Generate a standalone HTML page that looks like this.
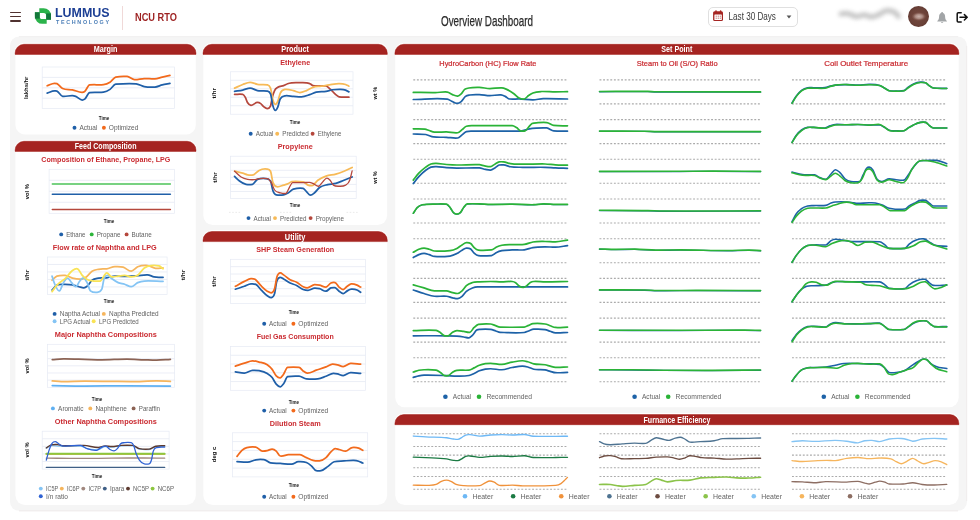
<!DOCTYPE html>
<html lang="en">
<head>
<meta charset="utf-8">
<title>Overview Dashboard</title>
<style>
*{box-sizing:border-box}
html,body{margin:0;padding:0}
body{width:980px;height:520px;overflow:hidden;background:#fff;font-family:"Liberation Sans", sans-serif;position:relative;color:#333}
header{position:absolute;left:0;top:0;width:980px;height:36px;background:#fff}
.burger{position:absolute;left:10px;top:11.6px;width:11px;height:11px}
.burger i{position:absolute;left:0;width:11px;height:1.15px;background:#503230;border-radius:1px}
.logo{position:absolute;left:34px;top:6px;width:80px;height:22px}
.vsep{position:absolute;left:122px;top:6px;width:1px;height:24px;background:#f0d9d8}
.app{position:absolute;left:135px;top:10.6px;width:44px;height:12px}
.title{position:absolute;left:441px;top:13px;width:92px;height:17px}
.range{position:absolute;left:708.3px;top:7.4px;width:89.7px;height:19.4px;border:1px solid #e0e0e0;border-radius:5px;background:#fff}
.user{position:absolute;left:836px;top:8px;width:64px;height:18px}
.avatar{position:absolute;left:907.8px;top:6.1px;width:21.1px;height:20.9px;border-radius:50%;background:radial-gradient(ellipse 7.4px 4.4px at 52% 50%,rgba(205,182,176,.95) 0,rgba(190,160,152,.8) 45%,rgba(150,110,100,.35) 80%,rgba(120,80,70,0) 100%),radial-gradient(circle at 50% 50%,#75493f 0,#6b4239 55%,#5c362e 85%,#50302a 100%)}
.icons{position:absolute;left:932px;top:8px;width:42px;height:18px}
main{position:absolute;left:10px;top:37px;width:957px;height:474px}
.card{position:absolute}
.card h2{margin:0;height:10px}
#charts{position:absolute;left:0;top:0;width:980px;height:520px;font-family:"Liberation Sans", sans-serif;opacity:.999}
header svg{opacity:.999}
</style>
</head>
<body>
<header>
  <div class="burger"><i style="top:0"></i><i style="top:4.4px"></i><i style="top:8.8px"></i></div>
  <svg class="logo" viewBox="0 0 80 22">
    <g fill="none" stroke-width="4.8">
      <path d="M5.3 4.6 L9.6 4.6 A5 5 0 0 1 14.6 9.6 L14.6 13.7" stroke="#2bb34b"/>
      <path d="M3.3 6.3 L3.3 10.4 A5 5 0 0 0 8.3 15.4 L12.7 15.4" stroke="#2bb34b"/>
      <path d="M14.6 7.4 L14.6 13.7" stroke="#14773b"/>
      <path d="M3.3 6.3 L3.3 12.6" stroke="#14773b"/>
    </g>
    <text x="21" y="11.0" font-family='"Liberation Sans", sans-serif' font-size="12.2" font-weight="bold" fill="#1d3f94" textLength="54.5" lengthAdjust="spacingAndGlyphs">LUMMUS</text>
    <text x="22" y="18.2" font-family='"Liberation Sans", sans-serif' font-size="5.4" font-weight="bold" fill="#4c7fb8" textLength="53" lengthAdjust="spacing">TECHNOLOGY</text>
  </svg>
  <div class="vsep"></div>
  <svg class="app" viewBox="0 0 44 12"><text x="0" y="9.6" font-family='"Liberation Sans", sans-serif' font-size="10.4" font-weight="bold" fill="#9c1f1f" textLength="42" lengthAdjust="spacingAndGlyphs">NCU RTO</text></svg>
  <svg class="title" viewBox="0 0 92 17"><text x="0" y="13.4" font-family='"Liberation Sans", sans-serif' font-size="14.8" fill="#2b2b2b" stroke="#2b2b2b" stroke-width=".25" textLength="92" lengthAdjust="spacingAndGlyphs">Overview Dashboard</text></svg>
  <div class="range">
    <svg width="88" height="18" viewBox="0 0 88 18" style="position:absolute;left:0;top:0">
      <rect x="4.1" y="3.3" width="9.9" height="9.8" rx="1.5" fill="#a52421"/>
      <rect x="5.4" y="6.6" width="7.4" height="5.3" rx=".5" fill="#fff"/>
      <rect x="6.3" y="2.2" width="1.4" height="2.6" rx=".6" fill="#a52421"/>
      <rect x="10.9" y="2.2" width="1.4" height="2.6" rx=".6" fill="#a52421"/>
      <g fill="#c98a88"><rect x="6.6" y="7.6" width="1.3" height="1.2"/><rect x="8.65" y="7.6" width="1.3" height="1.2"/><rect x="10.7" y="7.6" width="1.3" height="1.2"/><rect x="6.6" y="9.6" width="1.3" height="1.2"/><rect x="8.65" y="9.6" width="1.3" height="1.2"/><rect x="10.7" y="9.6" width="1.3" height="1.2"/></g>
      <text x="19.6" y="12.4" font-family='"Liberation Sans", sans-serif' font-size="10.3" fill="#3a3a3a" textLength="47.3" lengthAdjust="spacingAndGlyphs">Last 30 Days</text>
      <path d="M77.6 7.6 L82.4 7.6 L80 10.4 Z" fill="#555"/>
    </svg>
  </div>
  <svg class="user" viewBox="0 0 64 18" style="overflow:visible">
    <defs><filter id="bl" x="-30%" y="-150%" width="160%" height="400%"><feGaussianBlur stdDeviation="2.1"/></filter></defs>
    <path d="M5 6 C8 5 10 5.2 12 5.6 C16 6.5 18 8.6 21 8.6 C24 8.6 25.5 6.8 28 6.8 C31 6.8 32.5 9 35.5 9 C38.5 9 40.5 7.6 43 6.6 C46 5 47.5 2.8 50.5 2.7 C53.5 2.6 55.5 2.8 57.5 3.7 C60 5 61.5 7 62.5 8.6" fill="none" stroke="#8f8f8f" stroke-width="4.8" stroke-linecap="round" filter="url(#bl)" opacity=".55"/>
  </svg>
  <div class="avatar"></div>
  <svg class="icons" viewBox="0 0 42 18">
    <path d="M10.1 3.9 C10.9 3.9 11 4.6 11 4.9 C12.6 5.5 13.1 7 13.1 8.6 C13.1 11 13.7 12 14.9 13.1 L14.9 13.6 L5.3 13.6 L5.3 13.1 C6.5 12 7.1 11 7.1 8.6 C7.1 7 7.6 5.5 9.2 4.9 C9.2 4.6 9.3 3.9 10.1 3.9 Z" fill="#a2a5a7"/>
    <path d="M8.9 14.2 A1.25 1.25 0 0 0 11.3 14.2 Z" fill="#a2a5a7"/>
    <path d="M29.2 4.7 L26.2 4.7 Q25.2 4.7 25.2 5.7 L25.2 13 Q25.2 14 26.2 14 L29.2 14" fill="none" stroke="#111" stroke-width="1.5" stroke-linejoin="round" stroke-linecap="round"/>
    <path d="M28 9.3 L35 9.3 M32.4 6.6 L35.2 9.3 L32.4 12" fill="none" stroke="#111" stroke-width="1.5" stroke-linejoin="round" stroke-linecap="round"/>
  </svg>
</header>
<main></main>
<section class="card" id="margin" style="left:15.1px;top:44.3px;width:180.9px;height:90.2px"><h2 aria-label="Margin"></h2></section>
<section class="card" id="feed" style="left:15.1px;top:141.3px;width:180.9px;height:363.8px"><h2 aria-label="Feed Composition"></h2></section>
<section class="card" id="product" style="left:203px;top:44.3px;width:184.3px;height:180.7px"><h2 aria-label="Product"></h2></section>
<section class="card" id="utility" style="left:203px;top:231.5px;width:184.3px;height:273.6px"><h2 aria-label="Utility"></h2></section>
<section class="card" id="setpoint" style="left:394.9px;top:44.3px;width:564px;height:363px"><h2 aria-label="Set Point"></h2></section>
<section class="card" id="furnace" style="left:394.9px;top:414.6px;width:564px;height:90.5px"><h2 aria-label="Furnance Efficiency"></h2></section>

<svg id="charts" viewBox="0 0 980 520">
<rect x="10" y="36.6" width="957" height="474.2" rx="9" fill="#f5f5f5"/>
<path d="M19 36.6 H958 " stroke="#ebe9e9" stroke-width=".6" fill="none"/>
<path d="M966.7 46 V501" stroke="#ece8e8" stroke-width=".7" fill="none"/>
<path d="M19 510.9 H958" stroke="#ebe4e4" stroke-width=".7" fill="none"/>
<rect x="15.45" y="44.3" width="180.35" height="90.2" rx="9.5" fill="#fff"/>
<path d="M14.2 54.4 V53.1 A9.7 10.4 0 0 1 23.9 42.7 H187.2 A9.7 10.4 0 0 1 196.9 53.1 V54.4 Z" fill="#fff"/>
<path d="M15.1 54.4 V53.1 A8.8 8.8 0 0 1 23.9 44.3 H187.2 A8.8 8.8 0 0 1 196 53.1 V54.4 Z" fill="#a52421" stroke="#9c0f08" stroke-width=".45"/>
<rect x="15.45" y="141.3" width="180.35" height="363.8" rx="9.5" fill="#fff"/>
<path d="M14.2 151.4 V150.1 A9.7 10.4 0 0 1 23.9 139.7 H187.2 A9.7 10.4 0 0 1 196.9 150.1 V151.4 Z" fill="#fff"/>
<path d="M15.1 151.4 V150.1 A8.8 8.8 0 0 1 23.9 141.3 H187.2 A8.8 8.8 0 0 1 196 150.1 V151.4 Z" fill="#a52421" stroke="#9c0f08" stroke-width=".45"/>
<rect x="203.35" y="44.3" width="183.75" height="180.7" rx="9.5" fill="#fff"/>
<path d="M202.1 54.4 V53.1 A9.7 10.4 0 0 1 211.8 42.7 H378.5 A9.7 10.4 0 0 1 388.2 53.1 V54.4 Z" fill="#fff"/>
<path d="M203 54.4 V53.1 A8.8 8.8 0 0 1 211.8 44.3 H378.5 A8.8 8.8 0 0 1 387.3 53.1 V54.4 Z" fill="#a52421" stroke="#9c0f08" stroke-width=".45"/>
<rect x="203.35" y="231.5" width="183.75" height="273.6" rx="9.5" fill="#fff"/>
<path d="M202.1 241.6 V240.3 A9.7 10.4 0 0 1 211.8 229.9 H378.5 A9.7 10.4 0 0 1 388.2 240.3 V241.6 Z" fill="#fff"/>
<path d="M203 241.6 V240.3 A8.8 8.8 0 0 1 211.8 231.5 H378.5 A8.8 8.8 0 0 1 387.3 240.3 V241.6 Z" fill="#a52421" stroke="#9c0f08" stroke-width=".45"/>
<rect x="395.25" y="44.3" width="563.45" height="363" rx="9.5" fill="#fff"/>
<path d="M394 54.4 V53.1 A9.7 10.4 0 0 1 403.7 42.7 H950.1 A9.7 10.4 0 0 1 959.8 53.1 V54.4 Z" fill="#fff"/>
<path d="M394.9 54.4 V53.1 A8.8 8.8 0 0 1 403.7 44.3 H950.1 A8.8 8.8 0 0 1 958.9 53.1 V54.4 Z" fill="#a52421" stroke="#9c0f08" stroke-width=".45"/>
<rect x="395.25" y="414.6" width="563.45" height="90.5" rx="9.5" fill="#fff"/>
<path d="M394 424.7 V423.4 A9.7 10.4 0 0 1 403.7 413 H950.1 A9.7 10.4 0 0 1 959.8 423.4 V424.7 Z" fill="#fff"/>
<path d="M394.9 424.7 V423.4 A8.8 8.8 0 0 1 403.7 414.6 H950.1 A8.8 8.8 0 0 1 958.9 423.4 V424.7 Z" fill="#a52421" stroke="#9c0f08" stroke-width=".45"/>
<rect x="42.2" y="67" width="132.3" height="41.6" fill="#fff" stroke="#e6eaf4" stroke-width="0.7"/>
<line x1="42.2" y1="77.4" x2="174.5" y2="77.4" stroke="#e6eaf4" stroke-width="0.8"/>
<line x1="42.2" y1="87.8" x2="174.5" y2="87.8" stroke="#e6eaf4" stroke-width="0.8"/>
<line x1="42.2" y1="98.2" x2="174.5" y2="98.2" stroke="#e6eaf4" stroke-width="0.8"/>
<path d="M47.14 93.1C49.59 92.39 52.04 91 54.49 90.98C55.31 90.97 56.12 90.88 56.94 91.14C58.84 91.75 60.75 96.05 62.65 96.37C65.92 96.9 69.18 95.39 72.45 95.55C73.54 95.61 74.63 95.98 75.71 96.37C77.89 97.15 80.07 100.21 82.24 100.12C83.06 100.09 83.88 99.72 84.69 99.14C86.33 97.98 87.96 92.85 89.59 92.61C94.22 91.95 98.84 92.78 103.47 92.12C105.65 91.81 107.82 90.84 110 89.35C111.9 88.04 113.81 84.26 115.71 84.12C122.52 83.64 129.32 83.31 136.12 83.8C138.84 83.99 141.56 86.04 144.29 86.57C147.82 87.27 151.36 87.22 154.9 87.06C157.35 86.95 159.8 85.53 162.24 84.94C164.8 84.32 167.36 83.96 169.92 83.47" fill="none" stroke="#1f5fa8" stroke-width="1.75" stroke-linecap="round" stroke-linejoin="round"/>
<path d="M47.14 85.76C49.59 84.94 52.04 83.29 54.49 83.31C55.31 83.31 56.12 83.35 56.94 83.63C58.84 84.3 60.75 87.71 62.65 88.53C65.92 89.94 69.18 89.21 72.45 89.84C75.71 90.46 78.98 92.5 82.24 92.29C83.06 92.23 83.88 92.01 84.69 91.47C86.33 90.38 87.96 85.12 89.59 84.94C94.22 84.42 98.84 85.13 103.47 84.61C105.65 84.37 107.82 83.57 110 82.16C111.9 80.93 113.81 77.52 115.71 77.1C119.52 76.28 123.33 76.17 127.14 76.45C129.59 76.63 132.04 79.56 134.49 79.71C137.76 79.91 141.02 78.62 144.29 78.57C147.82 78.52 151.36 79.04 154.9 78.9C157.35 78.8 159.8 77.66 162.24 77.1C164.8 76.52 167.36 76.01 169.92 75.47" fill="none" stroke="#f26a1c" stroke-width="1.75" stroke-linecap="round" stroke-linejoin="round"/>
<text x="104" y="119.7" font-size="5.2" fill="#222" text-anchor="middle" font-weight="bold" textLength="10.5" lengthAdjust="spacingAndGlyphs">Time</text>
<text x="28.2" y="87.8" font-size="6.2" fill="#111" text-anchor="middle" font-weight="bold" textLength="22.4" lengthAdjust="spacingAndGlyphs" transform="rotate(-90 28.2 87.8)">lakhs/hr</text>
<circle cx="74.5" cy="127.7" r="1.95" fill="#1f5fa8"/>
<text x="79.4" y="130.2" font-size="7.3" fill="#636363" text-anchor="start" font-weight="normal" textLength="18" lengthAdjust="spacingAndGlyphs">Actual</text>
<circle cx="103.9" cy="127.7" r="1.95" fill="#f26a1c"/>
<text x="108.8" y="130.2" font-size="7.3" fill="#636363" text-anchor="start" font-weight="normal" textLength="29.6" lengthAdjust="spacingAndGlyphs">Optimized</text>
<text x="105.8" y="162.3" font-size="7.6" fill="#ca2b31" text-anchor="middle" font-weight="bold" textLength="129" lengthAdjust="spacingAndGlyphs">Composition of Ethane, Propane, LPG</text>
<rect x="49.1" y="169.3" width="125.5" height="44" fill="#fff" stroke="#e6eaf4" stroke-width="0.7"/>
<line x1="49.1" y1="180.3" x2="174.6" y2="180.3" stroke="#e6eaf4" stroke-width="0.8"/>
<line x1="49.1" y1="191.3" x2="174.6" y2="191.3" stroke="#e6eaf4" stroke-width="0.8"/>
<line x1="49.1" y1="202.3" x2="174.6" y2="202.3" stroke="#e6eaf4" stroke-width="0.8"/>
<line x1="52.3" y1="184.1" x2="170.4" y2="184.1" stroke="#4cc35a" stroke-width="1.5" stroke-linecap="round"/>
<line x1="52.3" y1="194.3" x2="170.4" y2="194.3" stroke="#1f5fa8" stroke-width="1.5" stroke-linecap="round"/>
<line x1="52.3" y1="209.5" x2="170.4" y2="209.5" stroke="#b5473c" stroke-width="1.5" stroke-linecap="round"/>
<text x="109" y="222.7" font-size="5.2" fill="#222" text-anchor="middle" font-weight="bold" textLength="10.5" lengthAdjust="spacingAndGlyphs">Time</text>
<text x="29" y="191.7" font-size="6.2" fill="#111" text-anchor="middle" font-weight="bold" textLength="15" lengthAdjust="spacingAndGlyphs" transform="rotate(-90 29 191.7)">vol %</text>
<circle cx="61.2" cy="234.4" r="1.95" fill="#1f5fa8"/>
<text x="66.2" y="236.9" font-size="7.3" fill="#636363" text-anchor="start" font-weight="normal" textLength="19.3" lengthAdjust="spacingAndGlyphs">Ethane</text>
<circle cx="91.7" cy="234.4" r="1.95" fill="#2db53a"/>
<text x="96.7" y="236.9" font-size="7.3" fill="#636363" text-anchor="start" font-weight="normal" textLength="23.7" lengthAdjust="spacingAndGlyphs">Propane</text>
<circle cx="126.6" cy="234.4" r="1.95" fill="#b5473c"/>
<text x="131.6" y="236.9" font-size="7.3" fill="#636363" text-anchor="start" font-weight="normal" textLength="20.1" lengthAdjust="spacingAndGlyphs">Butane</text>
<text x="104.8" y="249.8" font-size="7.6" fill="#ca2b31" text-anchor="middle" font-weight="bold" textLength="104" lengthAdjust="spacingAndGlyphs">Flow rate of Naphtha and LPG</text>
<rect x="47.6" y="257" width="119.5" height="37.4" fill="#fff" stroke="#e6eaf4" stroke-width="0.7"/>
<line x1="47.6" y1="264.48" x2="167.1" y2="264.48" stroke="#e6eaf4" stroke-width="0.8"/>
<line x1="47.6" y1="271.96" x2="167.1" y2="271.96" stroke="#e6eaf4" stroke-width="0.8"/>
<line x1="47.6" y1="279.44" x2="167.1" y2="279.44" stroke="#e6eaf4" stroke-width="0.8"/>
<line x1="47.6" y1="286.92" x2="167.1" y2="286.92" stroke="#e6eaf4" stroke-width="0.8"/>
<path d="M52.04 280.2C53.67 278.84 55.31 276.73 56.94 276.12C59.66 275.11 62.38 275.18 65.1 275.31C67.55 275.42 70 277.45 72.45 278.08C75.71 278.93 78.98 279.39 82.24 279.06C83.61 278.92 84.97 277.92 86.33 276.94C88.23 275.57 90.14 272.51 92.04 271.22C94.22 269.76 96.39 269.69 98.57 269.27C101.29 268.74 104.01 269.21 106.73 268.78C109.46 268.34 112.18 266.73 114.9 266.65C117.62 266.57 120.34 266.41 123.06 267.14C125.78 267.88 128.5 271.35 131.22 271.22C133.4 271.12 135.58 267.76 137.76 266.82C141.02 265.4 144.29 265.39 147.55 265.51C150.27 265.61 152.99 268.17 155.71 268.29C158.16 268.39 160.61 268.07 163.06 267.96" fill="none" stroke="#f6b55c" stroke-width="1.75" stroke-linecap="round" stroke-linejoin="round"/>
<path d="M52.04 290C53.67 288.37 55.31 286 56.94 285.1C58.84 284.05 60.75 284.33 62.65 284.29C65.92 284.22 69.18 284.12 72.45 284.78C74.63 285.21 76.8 286.16 78.98 286.73C80.61 287.16 82.24 287.98 83.88 287.88C84.97 287.81 86.05 287.11 87.14 286.24C88.78 284.95 90.41 281.58 92.04 280.2C94.22 278.37 96.39 278.51 98.57 278.08C101.29 277.54 104.01 278.08 106.73 277.76C109.46 277.43 112.18 276.22 114.9 276.12C119.25 275.97 123.61 276.5 127.96 276.45C131.22 276.41 134.49 275.9 137.76 275.63C141.02 275.36 144.29 274.66 147.55 274.82C149.73 274.92 151.9 276.52 154.08 276.94C157.07 277.52 160.07 277.16 163.06 277.27" fill="none" stroke="#1f5fa8" stroke-width="1.75" stroke-linecap="round" stroke-linejoin="round"/>
<path d="M52.04 276.12C52.86 278.57 53.67 281.43 54.49 283.47C56.12 287.55 57.76 291.02 59.39 290.82C60.75 290.65 62.11 284.78 63.47 282.65C64.83 280.53 66.19 278.08 67.55 278.08C68.91 278.08 70.27 281.21 71.63 282.65C72.99 284.1 74.35 286.82 75.71 286.73C77.07 286.65 78.44 282.62 79.8 281.02C80.88 279.74 81.97 277.76 83.06 277.76C84.42 277.75 85.78 280.04 87.14 282.65C88.23 284.75 89.32 289.94 90.41 290.82C92.59 292.58 94.76 292.63 96.94 292.45C98.57 292.31 100.2 292.31 101.84 289.18C102.65 287.62 103.47 279.49 104.29 277.76C105.37 275.44 106.46 275.33 107.55 275.31C108.91 275.28 110.27 277.57 111.63 278.57C113.81 280.17 115.99 281.7 118.16 282.65C120.34 283.61 122.52 283.61 124.69 284.29C126.87 284.97 129.05 286.82 131.22 286.73C133.4 286.65 135.58 283.61 137.76 282.65C139.93 281.7 142.11 281.14 144.29 281.02C150.54 280.68 156.8 281.24 163.06 281.35" fill="none" stroke="#84c4f4" stroke-width="1.75" stroke-linecap="round" stroke-linejoin="round"/>
<path d="M52.04 291.63C53.67 289.46 55.31 286.98 56.94 285.1C59.93 281.66 62.93 280.74 65.92 277.76C68.1 275.59 70.27 271.87 72.45 270.41C74.08 269.31 75.71 268.53 77.35 268.78C78.98 269.02 80.61 273.54 82.24 275.31C83.88 277.07 85.51 278.44 87.14 279.39C89.32 280.66 91.5 280.75 93.67 281.02C95.85 281.29 98.03 281.37 100.2 281.02C102.38 280.68 104.56 272.9 106.73 272.86C108.37 272.83 110 276.73 111.63 276.94C113.81 277.21 115.99 276.39 118.16 276.12C120.34 275.85 122.52 275.27 124.69 275.31C126.87 275.35 129.05 276.94 131.22 276.94C133.4 276.94 135.58 276.8 137.76 275.31C139.93 273.81 142.11 269.59 144.29 267.96C146.46 266.33 148.64 265.63 150.82 265.51C153.54 265.35 156.26 265.25 158.98 265.84C160.34 266.13 161.7 267.8 163.06 268.78" fill="none" stroke="#f9e355" stroke-width="1.75" stroke-linecap="round" stroke-linejoin="round"/>
<text x="109" y="303" font-size="5.2" fill="#222" text-anchor="middle" font-weight="bold" textLength="10.5" lengthAdjust="spacingAndGlyphs">Time</text>
<text x="29" y="275" font-size="6.2" fill="#111" text-anchor="middle" font-weight="bold" textLength="10.5" lengthAdjust="spacingAndGlyphs" transform="rotate(-90 29 275)">t/hr</text>
<text x="184.6" y="275" font-size="6.2" fill="#111" text-anchor="middle" font-weight="bold" textLength="10.5" lengthAdjust="spacingAndGlyphs" transform="rotate(-90 184.6 275)">t/hr</text>
<circle cx="54.6" cy="313.9" r="1.95" fill="#1f5fa8"/>
<text x="59.8" y="316.4" font-size="7.3" fill="#636363" text-anchor="start" font-weight="normal" textLength="40.2" lengthAdjust="spacingAndGlyphs">Naptha Actual</text>
<circle cx="103.8" cy="313.9" r="1.95" fill="#f6b55c"/>
<text x="109" y="316.4" font-size="7.3" fill="#636363" text-anchor="start" font-weight="normal" textLength="49.7" lengthAdjust="spacingAndGlyphs">Naptha Predicted</text>
<circle cx="54.6" cy="321.3" r="1.95" fill="#84c4f4"/>
<text x="59.8" y="323.8" font-size="7.3" fill="#636363" text-anchor="start" font-weight="normal" textLength="30.5" lengthAdjust="spacingAndGlyphs">LPG Actual</text>
<circle cx="93.7" cy="321.3" r="1.95" fill="#f9e355"/>
<text x="98.9" y="323.8" font-size="7.3" fill="#636363" text-anchor="start" font-weight="normal" textLength="39.8" lengthAdjust="spacingAndGlyphs">LPG Predicted</text>
<text x="105.8" y="336.7" font-size="7.6" fill="#ca2b31" text-anchor="middle" font-weight="bold" textLength="102" lengthAdjust="spacingAndGlyphs">Major Naphtha Compositions</text>
<rect x="47.6" y="344.3" width="127" height="43" fill="#fff" stroke="#e6eaf4" stroke-width="0.7"/>
<line x1="47.6" y1="351.47" x2="174.6" y2="351.47" stroke="#e6eaf4" stroke-width="0.8"/>
<line x1="47.6" y1="358.63" x2="174.6" y2="358.63" stroke="#e6eaf4" stroke-width="0.8"/>
<line x1="47.6" y1="365.8" x2="174.6" y2="365.8" stroke="#e6eaf4" stroke-width="0.8"/>
<line x1="47.6" y1="372.97" x2="174.6" y2="372.97" stroke="#e6eaf4" stroke-width="0.8"/>
<line x1="47.6" y1="380.13" x2="174.6" y2="380.13" stroke="#e6eaf4" stroke-width="0.8"/>
<path d="M52.28 359.58C56.01 359.37 59.75 358.98 63.49 358.94C70.55 358.88 77.6 359.2 84.66 359.37C90.3 359.49 95.94 359.78 101.59 359.79C110.05 359.8 118.52 359.12 126.98 359.15C132.63 359.17 138.27 359.59 143.92 359.79C148.15 359.94 152.38 360.23 156.61 360.21C161.2 360.19 165.78 359.65 170.37 359.37" fill="none" stroke="#8c6354" stroke-width="1.75" stroke-linecap="round" stroke-linejoin="round"/>
<path d="M52.28 380.95C55.31 381.16 58.34 381.55 61.38 381.59C69.14 381.69 76.9 381.18 84.66 381.16C93.12 381.15 101.59 381.3 110.05 381.38C117.11 381.44 124.16 381.6 131.22 381.59C139.68 381.57 148.15 380.92 156.61 380.95C161.2 380.97 165.78 381.23 170.37 381.38" fill="none" stroke="#f6b55c" stroke-width="1.75" stroke-linecap="round" stroke-linejoin="round"/>
<path d="M52.28 385.61C63.07 385.75 73.86 386.01 84.66 386.03C98.77 386.05 112.87 385.82 126.98 385.82C141.45 385.82 155.91 385.96 170.37 386.03" fill="none" stroke="#5fb0f2" stroke-width="1.75" stroke-linecap="round" stroke-linejoin="round"/>
<text x="97.1" y="401" font-size="5.2" fill="#222" text-anchor="middle" font-weight="bold" textLength="10.5" lengthAdjust="spacingAndGlyphs">Time</text>
<text x="29" y="366" font-size="6.2" fill="#111" text-anchor="middle" font-weight="bold" textLength="15" lengthAdjust="spacingAndGlyphs" transform="rotate(-90 29 366)">vol %</text>
<circle cx="52.9" cy="408.4" r="1.95" fill="#5fb0f2"/>
<text x="58.1" y="410.9" font-size="7.3" fill="#636363" text-anchor="start" font-weight="normal" textLength="25.4" lengthAdjust="spacingAndGlyphs">Aromatic</text>
<circle cx="90.3" cy="408.4" r="1.95" fill="#f6b55c"/>
<text x="95.5" y="410.9" font-size="7.3" fill="#636363" text-anchor="start" font-weight="normal" textLength="31.3" lengthAdjust="spacingAndGlyphs">Naphthene</text>
<circle cx="133.6" cy="408.4" r="1.95" fill="#8c6354"/>
<text x="138.8" y="410.9" font-size="7.3" fill="#636363" text-anchor="start" font-weight="normal" textLength="21.2" lengthAdjust="spacingAndGlyphs">Paraffin</text>
<text x="105.8" y="423.5" font-size="7.6" fill="#ca2b31" text-anchor="middle" font-weight="bold" textLength="102" lengthAdjust="spacingAndGlyphs">Other Naphtha Compositions</text>
<rect x="42.2" y="431.2" width="126.9" height="37.9" fill="#fff" stroke="#e6eaf4" stroke-width="0.7"/>
<line x1="42.2" y1="438.78" x2="169.1" y2="438.78" stroke="#e6eaf4" stroke-width="0.8"/>
<line x1="42.2" y1="446.36" x2="169.1" y2="446.36" stroke="#e6eaf4" stroke-width="0.8"/>
<line x1="42.2" y1="453.94" x2="169.1" y2="453.94" stroke="#e6eaf4" stroke-width="0.8"/>
<line x1="42.2" y1="461.52" x2="169.1" y2="461.52" stroke="#e6eaf4" stroke-width="0.8"/>
<path d="M46.33 467.45C85.78 467.45 125.24 467.45 164.69 467.45" fill="none" stroke="#3f5f86" stroke-width="1.3" stroke-linecap="round" stroke-linejoin="round"/>
<path d="M46.33 458.14C57.21 458.25 68.1 458.47 78.98 458.47C89.86 458.47 100.75 458.22 111.63 458.14C122.52 458.06 133.4 457.97 144.29 457.98C151.09 457.99 157.89 458.09 164.69 458.14" fill="none" stroke="#a1887f" stroke-width="1.3" stroke-linecap="round" stroke-linejoin="round"/>
<path d="M46.33 454.39C85.78 454.39 125.24 454.39 164.69 454.39" fill="none" stroke="#f6b55c" stroke-width="1.3" stroke-linecap="round" stroke-linejoin="round"/>
<path d="M46.33 453.73C85.78 453.73 125.24 453.73 164.69 453.73" fill="none" stroke="#8cc63f" stroke-width="1.9" stroke-linecap="round" stroke-linejoin="round"/>
<path d="M46.33 448.18C47.96 447.31 49.59 445.72 51.22 445.57C53.95 445.32 56.67 446.15 59.39 446.22C66.46 446.42 73.54 446.03 80.61 446.22C83.33 446.3 86.05 448.69 88.78 449.16C92.04 449.73 95.31 449.74 98.57 449.49C100.75 449.32 102.93 446.67 105.1 446.55C107.28 446.43 109.46 447.04 111.63 447.04C114.9 447.04 118.16 446.1 121.43 445.9C125.24 445.66 129.05 445.64 132.86 445.9C135.03 446.05 137.21 448.79 139.39 449.16C142.65 449.73 145.92 449.73 149.18 449.49C151.36 449.33 153.54 447.24 155.71 446.71C158.71 446 161.7 446.39 164.69 446.22" fill="none" stroke="#84c4f4" stroke-width="1.3" stroke-linecap="round" stroke-linejoin="round"/>
<path d="M46.33 447.86C47.96 446.88 49.59 445.39 51.22 444.92C53.4 444.29 55.58 444.52 57.76 444.59C59.39 444.65 61.02 445.64 62.65 445.73C69.73 446.13 76.8 445.24 83.88 445.41C88.78 445.52 93.67 447.72 98.57 447.53C100.75 447.45 102.93 445.95 105.1 445.9C107.28 445.85 109.46 446.54 111.63 446.55C114.9 446.56 118.16 445.61 121.43 445.41C125.24 445.17 129.05 445.15 132.86 445.41C135.03 445.56 137.21 448.2 139.39 448.67C142.65 449.38 145.92 449.41 149.18 449.16C151.36 449 153.54 446.75 155.71 446.22C158.71 445.51 161.7 445.9 164.69 445.73" fill="none" stroke="#5d3a2f" stroke-width="1.4" stroke-linecap="round" stroke-linejoin="round"/>
<path d="M46.33 460.1C47.14 457.11 47.96 453.67 48.78 451.12C49.86 447.72 50.95 444.86 52.04 443.29C53.13 441.71 54.22 441.63 55.31 441.65C56.39 441.68 57.48 443.13 58.57 443.78C59.93 444.58 61.29 445.73 62.65 445.9C68.64 446.65 74.63 444.76 80.61 445.41C82.79 445.64 84.97 447.88 87.14 448.67C90.41 449.87 93.67 450.69 96.94 450.31C98.57 450.12 100.2 447.71 101.84 447.04C103.2 446.48 104.56 446.1 105.92 446.22C107.28 446.35 108.64 448.73 110 449.49C111.36 450.25 112.72 450.89 114.08 450.8C115.17 450.72 116.26 449.84 117.35 448.67C118.44 447.5 119.52 444.76 120.61 443.78C121.97 442.54 123.33 442.85 124.69 442.63C126.87 442.29 129.05 442.29 131.22 442.63C132.04 442.76 132.86 443.59 133.67 445.41C134.49 447.23 135.31 451.32 136.12 453.57C137.21 456.58 138.3 458.46 139.39 460.1C141.02 462.56 142.65 463.56 144.29 463.86C145.92 464.15 147.55 464.15 149.18 463.86C150 463.71 150.82 462.34 151.63 459.29C152.18 457.25 152.72 452.78 153.27 451.12C154.35 447.81 155.44 447.82 156.53 447.53C159.25 446.8 161.97 447.2 164.69 447.04" fill="none" stroke="#2f62d3" stroke-width="1.3" stroke-linecap="round" stroke-linejoin="round"/>
<text x="97.1" y="478" font-size="5.2" fill="#222" text-anchor="middle" font-weight="bold" textLength="10.5" lengthAdjust="spacingAndGlyphs">Time</text>
<text x="29" y="450" font-size="6.2" fill="#111" text-anchor="middle" font-weight="bold" textLength="15" lengthAdjust="spacingAndGlyphs" transform="rotate(-90 29 450)">vol %</text>
<circle cx="40.8" cy="488.6" r="1.95" fill="#84c4f4"/>
<text x="45.9" y="491.1" font-size="7.3" fill="#636363" text-anchor="start" font-weight="normal" textLength="12.2" lengthAdjust="spacingAndGlyphs">IC5P</text>
<circle cx="61.8" cy="488.6" r="1.95" fill="#f6b55c"/>
<text x="66.9" y="491.1" font-size="7.3" fill="#636363" text-anchor="start" font-weight="normal" textLength="12.7" lengthAdjust="spacingAndGlyphs">IC6P</text>
<circle cx="83.3" cy="488.6" r="1.95" fill="#a1887f"/>
<text x="88.4" y="491.1" font-size="7.3" fill="#636363" text-anchor="start" font-weight="normal" textLength="12.7" lengthAdjust="spacingAndGlyphs">IC7P</text>
<circle cx="104.8" cy="488.6" r="1.95" fill="#3f5f86"/>
<text x="109.9" y="491.1" font-size="7.3" fill="#636363" text-anchor="start" font-weight="normal" textLength="14.4" lengthAdjust="spacingAndGlyphs">Ipara</text>
<circle cx="128" cy="488.6" r="1.95" fill="#5d3a2f"/>
<text x="133.1" y="491.1" font-size="7.3" fill="#636363" text-anchor="start" font-weight="normal" textLength="15.8" lengthAdjust="spacingAndGlyphs">NC5P</text>
<circle cx="152.6" cy="488.6" r="1.95" fill="#8cc63f"/>
<text x="157.7" y="491.1" font-size="7.3" fill="#636363" text-anchor="start" font-weight="normal" textLength="16.3" lengthAdjust="spacingAndGlyphs">NC6P</text>
<circle cx="40.8" cy="496.2" r="1.95" fill="#2f62d3"/>
<text x="46" y="498.7" font-size="7.3" fill="#636363" text-anchor="start" font-weight="normal" textLength="22" lengthAdjust="spacingAndGlyphs">I/n ratio</text>
<text x="295.2" y="65" font-size="7.6" fill="#ca2b31" text-anchor="middle" font-weight="bold" textLength="30" lengthAdjust="spacingAndGlyphs">Ethylene</text>
<rect x="230.5" y="71.8" width="122.5" height="42.4" fill="#fff" stroke="#e6eaf4" stroke-width="0.7"/>
<line x1="230.5" y1="80.28" x2="353" y2="80.28" stroke="#e6eaf4" stroke-width="0.8"/>
<line x1="230.5" y1="88.76" x2="353" y2="88.76" stroke="#e6eaf4" stroke-width="0.8"/>
<line x1="230.5" y1="97.24" x2="353" y2="97.24" stroke="#e6eaf4" stroke-width="0.8"/>
<line x1="230.5" y1="105.72" x2="353" y2="105.72" stroke="#e6eaf4" stroke-width="0.8"/>
<path d="M234.59 94.33C237.31 94.33 240.03 94.02 242.76 94.33C243.57 94.42 244.39 95.69 245.2 97.1C246.02 98.52 246.84 101.47 247.65 102.82C248.74 104.62 249.83 105.15 250.92 105.27C253.1 105.5 255.27 102.43 257.45 102.49C258.54 102.52 259.63 102.9 260.71 103.63C261.8 104.37 262.89 106.08 263.98 106.9C265.07 107.71 266.16 108.57 267.24 108.53C268.33 108.49 269.42 108.4 270.51 106.08C271.05 104.92 271.6 100.2 272.14 97.92C272.96 94.49 273.78 92.32 274.59 90.57C275.68 88.24 276.77 88.11 277.86 87.31C279.76 85.9 281.67 86.43 283.57 85.67C284.93 85.13 286.29 84.18 287.65 83.71C289.01 83.25 290.37 83.08 291.73 82.9C294.18 82.56 296.63 82.73 299.08 82.73C301.53 82.73 303.98 82.44 306.43 82.9C307.79 83.15 309.15 83.33 310.51 84.04C311.33 84.47 312.14 85.57 312.96 85.67C317.31 86.2 321.67 85.47 326.02 86C327.65 86.2 329.29 88.31 330.92 89.76C332.55 91.2 334.18 93.36 335.82 94.65C336.9 95.51 337.99 96.59 339.08 96.78C342.35 97.34 345.61 96.99 348.88 97.1" fill="none" stroke="#b5473c" stroke-width="1.75" stroke-linecap="round" stroke-linejoin="round"/>
<path d="M234.59 88.12C237.31 86.93 240.03 85.51 242.76 84.53C245.2 83.65 247.65 82.42 250.1 82.41C252.55 82.4 255 83.94 257.45 84.37C260.71 84.93 263.98 84.15 267.24 84.86C268.33 85.09 269.42 85.1 270.51 88.12C271.33 90.39 272.14 97.65 272.96 100.37C273.78 103.09 274.59 104.41 275.41 104.45C276.22 104.49 277.04 103.09 277.86 101.18C278.67 99.28 279.49 94.72 280.31 93.02C281.94 89.61 283.57 89.63 285.2 89.43C287.93 89.1 290.65 89.95 293.37 90.57C295.54 91.07 297.72 92.53 299.9 92.53C302.07 92.53 304.25 91.44 306.43 90.57C308.61 89.7 310.78 88.05 312.96 87.31C315.68 86.38 318.4 86.57 321.12 86.16C323.84 85.76 326.56 85.26 329.29 84.86C332.55 84.37 335.82 83.52 339.08 83.55C341.26 83.57 343.44 83.7 345.61 84.53C346.7 84.95 347.79 85.62 348.88 86.16" fill="none" stroke="#f7ba57" stroke-width="1.75" stroke-linecap="round" stroke-linejoin="round"/>
<path d="M234.59 91.39C237.31 90.95 240.03 90.67 242.76 90.08C245.2 89.55 247.65 88.1 250.1 88.12C252.55 88.15 255 90.05 257.45 90.57C260.71 91.26 263.98 90.35 267.24 91.06C268.33 91.3 269.42 91.24 270.51 93.84C271.33 95.79 272.14 103.31 272.96 106.08C273.78 108.86 274.59 110.45 275.41 110.49C276.22 110.53 277.04 108.86 277.86 106.9C278.67 104.94 279.49 100.16 280.31 98.73C281.94 95.89 283.57 95.97 285.2 95.8C287.93 95.51 290.65 96.12 293.37 96.29C296.09 96.45 298.81 96.86 301.53 96.78C304.25 96.69 306.97 95.53 309.69 94.65C311.87 93.95 314.05 92.77 316.22 92.2C319.49 91.36 322.76 91.99 326.02 91.39C328.2 90.99 330.37 90.12 332.55 89.76C335.27 89.3 337.99 89.2 340.71 89.27C342.35 89.31 343.98 89.43 345.61 90.08C346.7 90.51 347.79 91.28 348.88 91.88" fill="none" stroke="#1f5fa8" stroke-width="1.75" stroke-linecap="round" stroke-linejoin="round"/>
<text x="295" y="123.7" font-size="5.2" fill="#222" text-anchor="middle" font-weight="bold" textLength="10.5" lengthAdjust="spacingAndGlyphs">Time</text>
<text x="216.5" y="93.2" font-size="6.2" fill="#111" text-anchor="middle" font-weight="bold" textLength="10.5" lengthAdjust="spacingAndGlyphs" transform="rotate(-90 216.5 93.2)">t/hr</text>
<text x="377.3" y="93.2" font-size="6.2" fill="#111" text-anchor="middle" font-weight="bold" textLength="12.5" lengthAdjust="spacingAndGlyphs" transform="rotate(-90 377.3 93.2)">wt %</text>
<circle cx="250.7" cy="133.7" r="1.95" fill="#1f5fa8"/>
<text x="255.8" y="136.2" font-size="7.3" fill="#636363" text-anchor="start" font-weight="normal" textLength="17.6" lengthAdjust="spacingAndGlyphs">Actual</text>
<circle cx="277.2" cy="133.7" r="1.95" fill="#f7ba57"/>
<text x="282.3" y="136.2" font-size="7.3" fill="#636363" text-anchor="start" font-weight="normal" textLength="26.5" lengthAdjust="spacingAndGlyphs">Predicted</text>
<circle cx="312.6" cy="133.7" r="1.95" fill="#b5473c"/>
<text x="317.7" y="136.2" font-size="7.3" fill="#636363" text-anchor="start" font-weight="normal" textLength="23.7" lengthAdjust="spacingAndGlyphs">Ethylene</text>
<text x="295.2" y="149.4" font-size="7.6" fill="#ca2b31" text-anchor="middle" font-weight="bold" textLength="35" lengthAdjust="spacingAndGlyphs">Propylene</text>
<rect x="230.5" y="156.2" width="125.7" height="42.3" fill="#fff" stroke="#e6eaf4" stroke-width="0.7"/>
<line x1="230.5" y1="163.25" x2="356.2" y2="163.25" stroke="#e6eaf4" stroke-width="0.8"/>
<line x1="230.5" y1="170.3" x2="356.2" y2="170.3" stroke="#e6eaf4" stroke-width="0.8"/>
<line x1="230.5" y1="177.35" x2="356.2" y2="177.35" stroke="#e6eaf4" stroke-width="0.8"/>
<line x1="230.5" y1="184.4" x2="356.2" y2="184.4" stroke="#e6eaf4" stroke-width="0.8"/>
<line x1="230.5" y1="191.45" x2="356.2" y2="191.45" stroke="#e6eaf4" stroke-width="0.8"/>
<path d="M234.59 171.22C237.31 171.88 240.03 172.37 242.76 173.18C244.39 173.67 246.02 174.52 247.65 174.82C249.56 175.16 251.46 175.16 253.37 174.82C255.27 174.47 257.18 171.4 259.08 170.41C261.8 168.99 264.52 168.76 267.24 169.1C268.33 169.24 269.42 169.19 270.51 171.22C271.33 172.75 272.14 180.38 272.96 182.65C274.32 186.44 275.68 186.52 277.04 186.73C279.22 187.07 281.39 185.75 283.57 185.1C285.2 184.62 286.84 184.27 288.47 183.47C289.56 182.93 290.65 181.66 291.73 181.51C295.54 180.98 299.35 181.29 303.16 181.84C304.8 182.07 306.43 184.5 308.06 185.1C309.42 185.6 310.78 185.72 312.14 185.59C314.05 185.41 315.95 181.65 317.86 180.2C320.58 178.13 323.3 177.11 326.02 176.12C329.29 174.94 332.55 175.1 335.82 174.16C338.54 173.38 341.26 172.34 343.98 171.22C346.7 170.11 349.42 168.72 352.14 167.47" fill="none" stroke="#f7ba57" stroke-width="1.75" stroke-linecap="round" stroke-linejoin="round"/>
<path d="M234.59 176.45C236.22 177.97 237.86 179.8 239.49 181.02C241.67 182.65 243.84 183.94 246.02 184.29C248.2 184.63 250.37 184.63 252.55 184.29C254.18 184.03 255.82 180 257.45 179.39C260.17 178.37 262.89 178.35 265.61 178.57C267.24 178.71 268.88 178.6 270.51 181.02C271.33 182.23 272.14 188.51 272.96 190.82C274.05 193.89 275.14 194.75 276.22 194.9C278.67 195.22 281.12 195.22 283.57 194.9C285.2 194.68 286.84 193.73 288.47 192.78C290.1 191.82 291.73 189.68 293.37 189.18C296.63 188.19 299.9 187.65 303.16 188.37C304.25 188.61 305.34 190.6 306.43 191.63C307.79 192.92 309.15 195.17 310.51 195.22C311.87 195.28 313.23 193.88 314.59 192.78C316.22 191.45 317.86 188.86 319.49 187.55C322.21 185.37 324.93 185.29 327.65 184.61C330.37 183.93 333.1 184.2 335.82 183.47C338.54 182.73 341.26 181.29 343.98 180.2C346.7 179.12 349.42 178.03 352.14 176.94" fill="none" stroke="#1f5fa8" stroke-width="1.75" stroke-linecap="round" stroke-linejoin="round"/>
<path d="M234.59 171.22C236.77 173.13 238.95 175.58 241.12 176.94C243.3 178.3 245.48 178.93 247.65 179.39C249.83 179.85 252.01 179.79 254.18 179.71C255.82 179.66 257.45 178.76 259.08 178.57C261.8 178.26 264.52 178.26 267.24 178.57C268.61 178.73 269.97 180.35 271.33 182.65C272.41 184.5 273.5 188.43 274.59 190C276.5 192.75 278.4 192.23 280.31 192.78C282.21 193.32 284.12 193.88 286.02 193.27C287.11 192.91 288.2 189.32 289.29 187.55C290.37 185.78 291.46 182.74 292.55 182.65C296.09 182.38 299.63 182.76 303.16 182.65C305.34 182.59 307.52 182.19 309.69 182.33C310.78 182.4 311.87 183.03 312.96 183.47C314.86 184.23 316.77 186.49 318.67 186.24C320.03 186.07 321.39 183.2 322.76 181.84C324.12 180.48 325.48 178.1 326.84 178.08C327.93 178.07 329.01 179.03 330.1 180.2C331.19 181.37 332.28 184.34 333.37 185.1C335.27 186.44 337.18 186.23 339.08 186.24C341.26 186.26 343.44 186.44 345.61 185.1C346.97 184.27 348.33 184.05 349.69 180.2C350.51 177.9 351.33 174 352.14 170.9" fill="none" stroke="#b5473c" stroke-width="1.3" stroke-linecap="round" stroke-linejoin="round"/>
<text x="295" y="206.8" font-size="5.2" fill="#222" text-anchor="middle" font-weight="bold" textLength="10.5" lengthAdjust="spacingAndGlyphs">Time</text>
<line x1="229" y1="212.4" x2="240.5" y2="212.4" stroke="#e9e9e9" stroke-width="0.9" stroke-dasharray="1.6 1.6"/>
<line x1="280" y1="212.4" x2="292.5" y2="212.4" stroke="#e9e9e9" stroke-width="0.9" stroke-dasharray="1.6 1.6"/>
<line x1="346.5" y1="212.4" x2="358" y2="212.4" stroke="#e9e9e9" stroke-width="0.9" stroke-dasharray="1.6 1.6"/>
<text x="216.5" y="177.5" font-size="6.2" fill="#111" text-anchor="middle" font-weight="bold" textLength="10.5" lengthAdjust="spacingAndGlyphs" transform="rotate(-90 216.5 177.5)">t/hr</text>
<text x="377.3" y="177.5" font-size="6.2" fill="#111" text-anchor="middle" font-weight="bold" textLength="12.5" lengthAdjust="spacingAndGlyphs" transform="rotate(-90 377.3 177.5)">wt %</text>
<circle cx="248.5" cy="218.1" r="1.95" fill="#1f5fa8"/>
<text x="253.6" y="220.6" font-size="7.3" fill="#636363" text-anchor="start" font-weight="normal" textLength="17.3" lengthAdjust="spacingAndGlyphs">Actual</text>
<circle cx="275" cy="218.1" r="1.95" fill="#f7ba57"/>
<text x="280.1" y="220.6" font-size="7.3" fill="#636363" text-anchor="start" font-weight="normal" textLength="26.4" lengthAdjust="spacingAndGlyphs">Predicted</text>
<circle cx="310.6" cy="218.1" r="1.95" fill="#b5473c"/>
<text x="315.7" y="220.6" font-size="7.3" fill="#636363" text-anchor="start" font-weight="normal" textLength="28.4" lengthAdjust="spacingAndGlyphs">Propylene</text>
<text x="295.2" y="252.1" font-size="7.6" fill="#ca2b31" text-anchor="middle" font-weight="bold" textLength="78" lengthAdjust="spacingAndGlyphs">SHP Steam Generation</text>
<rect x="230.5" y="259.3" width="135" height="44.1" fill="#fff" stroke="#e6eaf4" stroke-width="0.7"/>
<line x1="230.5" y1="266.65" x2="365.5" y2="266.65" stroke="#e6eaf4" stroke-width="0.8"/>
<line x1="230.5" y1="274" x2="365.5" y2="274" stroke="#e6eaf4" stroke-width="0.8"/>
<line x1="230.5" y1="281.35" x2="365.5" y2="281.35" stroke="#e6eaf4" stroke-width="0.8"/>
<line x1="230.5" y1="288.7" x2="365.5" y2="288.7" stroke="#e6eaf4" stroke-width="0.8"/>
<line x1="230.5" y1="296.05" x2="365.5" y2="296.05" stroke="#e6eaf4" stroke-width="0.8"/>
<path d="M235.41 289.22C238.4 288.24 241.39 287.35 244.39 286.29C246.56 285.51 248.74 283.9 250.92 283.84C252.55 283.79 254.18 283.61 255.82 284.33C257.72 285.16 259.63 288.46 261.53 290.37C263.44 292.27 265.34 294.47 267.24 295.76C268.61 296.67 269.97 297.91 271.33 297.71C272.41 297.56 273.5 297.37 274.59 293.63C275.3 291.21 276.01 283.81 276.71 281.39C277.8 277.65 278.89 277.45 279.98 277.31C281.18 277.15 282.37 278.32 283.57 278.94C285.75 280.06 287.93 281.93 290.1 283.02C292.28 284.11 294.46 284.38 296.63 285.47C298.81 286.56 300.99 288.76 303.16 289.55C304.8 290.14 306.43 290.39 308.06 290.37C310.24 290.34 312.41 288.3 314.59 288.24C316.22 288.2 317.86 288.38 319.49 288.73C321.67 289.21 323.84 291.33 326.02 291.18C327.65 291.08 329.29 288.48 330.92 287.92C332.28 287.45 333.64 287.43 335 287.59C336.36 287.76 337.72 290.18 339.08 291.18C340.44 292.19 341.8 293.65 343.16 293.63C344.52 293.62 345.88 291.59 347.24 290.86C348.61 290.12 349.97 289.3 351.33 289.22C353.23 289.13 355.14 289.19 357.04 290.04C358.24 290.57 359.44 291.56 360.63 292.33" fill="none" stroke="#1f5fa8" stroke-width="1.75" stroke-linecap="round" stroke-linejoin="round"/>
<path d="M235.41 286.29C238.4 284.65 241.39 282.81 244.39 281.39C246.56 280.35 248.74 278.65 250.92 278.61C252.28 278.59 253.64 278.52 255 279.27C256.9 280.3 258.81 283.59 260.71 285.47C262.89 287.62 265.07 289.92 267.24 291.18C268.61 291.98 269.97 293.03 271.33 292.82C272.41 292.65 273.5 292.43 274.59 288.73C275.41 285.97 276.22 278.97 277.04 276.49C278.13 273.18 279.22 272.98 280.31 272.9C281.39 272.82 282.48 274.15 283.57 274.86C285.75 276.27 287.93 278.53 290.1 279.76C292.28 280.98 294.46 281.03 296.63 282.2C298.81 283.37 300.99 285.81 303.16 286.78C304.52 287.38 305.88 287.91 307.24 287.92C309.69 287.93 312.14 284.74 314.59 284.65C316.22 284.6 317.86 284.84 319.49 285.14C321.67 285.55 323.84 287.33 326.02 287.1C327.65 286.93 329.29 283.75 330.92 283.02C332.28 282.42 333.64 282.33 335 282.53C336.36 282.73 337.72 285.93 339.08 287.1C340.44 288.27 341.8 289.59 343.16 289.55C344.52 289.51 345.88 287.24 347.24 286.29C348.61 285.33 349.97 283.94 351.33 283.84C353.23 283.69 355.14 284.34 357.04 285.14C358.24 285.65 359.44 286.45 360.63 287.1" fill="none" stroke="#f26a1c" stroke-width="1.75" stroke-linecap="round" stroke-linejoin="round"/>
<text x="293.9" y="313.7" font-size="5.2" fill="#222" text-anchor="middle" font-weight="bold" textLength="10.5" lengthAdjust="spacingAndGlyphs">Time</text>
<text x="216.5" y="281.4" font-size="6.2" fill="#111" text-anchor="middle" font-weight="bold" textLength="10.5" lengthAdjust="spacingAndGlyphs" transform="rotate(-90 216.5 281.4)">t/hr</text>
<circle cx="264.2" cy="323.7" r="1.95" fill="#1f5fa8"/>
<text x="269.1" y="326.2" font-size="7.3" fill="#636363" text-anchor="start" font-weight="normal" textLength="17.6" lengthAdjust="spacingAndGlyphs">Actual</text>
<circle cx="293.4" cy="323.7" r="1.95" fill="#f26a1c"/>
<text x="298.3" y="326.2" font-size="7.3" fill="#636363" text-anchor="start" font-weight="normal" textLength="30" lengthAdjust="spacingAndGlyphs">Optimized</text>
<text x="295.2" y="339.2" font-size="7.6" fill="#ca2b31" text-anchor="middle" font-weight="bold" textLength="77" lengthAdjust="spacingAndGlyphs">Fuel Gas Consumption</text>
<rect x="230.5" y="346.5" width="135" height="43.8" fill="#fff" stroke="#e6eaf4" stroke-width="0.7"/>
<line x1="230.5" y1="355.26" x2="365.5" y2="355.26" stroke="#e6eaf4" stroke-width="0.8"/>
<line x1="230.5" y1="364.02" x2="365.5" y2="364.02" stroke="#e6eaf4" stroke-width="0.8"/>
<line x1="230.5" y1="372.78" x2="365.5" y2="372.78" stroke="#e6eaf4" stroke-width="0.8"/>
<line x1="230.5" y1="381.54" x2="365.5" y2="381.54" stroke="#e6eaf4" stroke-width="0.8"/>
<path d="M235.41 371.84C238.4 372.27 241.39 373.24 244.39 373.14C247.11 373.05 249.83 370.47 252.55 370.37C254.73 370.29 256.9 370.3 259.08 370.69C261.8 371.18 264.52 371.71 267.24 373.47C268.88 374.53 270.51 375.51 272.14 377.55C273.5 379.25 274.86 382.53 276.22 384.08C277.59 385.63 278.95 386.95 280.31 386.86C281.39 386.78 282.48 385.16 283.57 383.76C284.93 382 286.29 376.98 287.65 376.73C291.46 376.05 295.27 376.02 299.08 376.24C301.53 376.39 303.98 378.69 306.43 378.86C310.24 379.12 314.05 379.12 317.86 378.86C320.58 378.67 323.3 377.2 326.02 376.24C328.47 375.39 330.92 373.51 333.37 373.47C334.73 373.45 336.09 373.7 337.45 373.96C339.35 374.32 341.26 375.6 343.16 375.59C345.61 375.58 348.06 372.8 350.51 372.65C353.88 372.45 357.26 373.2 360.63 373.47" fill="none" stroke="#1f5fa8" stroke-width="1.75" stroke-linecap="round" stroke-linejoin="round"/>
<path d="M235.41 366.12C238.4 365.14 241.39 364.09 244.39 363.18C247.11 362.36 249.83 360.92 252.55 360.9C254.73 360.88 256.9 361.5 259.08 362.04C261.8 362.72 264.52 362.88 267.24 364.82C268.88 365.98 270.51 367.27 272.14 369.39C273.5 371.15 274.86 374.5 276.22 375.92C277.59 377.33 278.95 378.04 280.31 377.88C281.39 377.75 282.48 375.76 283.57 374.29C284.93 372.44 286.29 367.52 287.65 367.43C291.46 367.17 295.27 367.17 299.08 367.43C300.44 367.52 301.8 370.07 303.16 371.02C304.52 371.97 305.88 373.04 307.24 373.14C310.24 373.37 313.23 371.19 316.22 370.2C319.49 369.13 322.76 368.21 326.02 366.94C328.2 366.09 330.37 364.23 332.55 364.16C334.18 364.11 335.82 364.46 337.45 364.82C339.35 365.23 341.26 366.62 343.16 366.61C345.61 366.6 348.06 363.51 350.51 363.35C353.88 363.12 357.26 363.89 360.63 364.16" fill="none" stroke="#f26a1c" stroke-width="1.75" stroke-linecap="round" stroke-linejoin="round"/>
<text x="293.9" y="404.2" font-size="5.2" fill="#222" text-anchor="middle" font-weight="bold" textLength="10.5" lengthAdjust="spacingAndGlyphs">Time</text>
<circle cx="264.2" cy="410.6" r="1.95" fill="#1f5fa8"/>
<text x="269.1" y="413.1" font-size="7.3" fill="#636363" text-anchor="start" font-weight="normal" textLength="17.6" lengthAdjust="spacingAndGlyphs">Actual</text>
<circle cx="293.4" cy="410.6" r="1.95" fill="#f26a1c"/>
<text x="298.3" y="413.1" font-size="7.3" fill="#636363" text-anchor="start" font-weight="normal" textLength="30" lengthAdjust="spacingAndGlyphs">Optimized</text>
<text x="295.2" y="425.8" font-size="7.6" fill="#ca2b31" text-anchor="middle" font-weight="bold" textLength="51" lengthAdjust="spacingAndGlyphs">Dilution Steam</text>
<rect x="232.5" y="432.8" width="135.2" height="44.1" fill="#fff" stroke="#e6eaf4" stroke-width="0.7"/>
<line x1="232.5" y1="441.62" x2="367.7" y2="441.62" stroke="#e6eaf4" stroke-width="0.8"/>
<line x1="232.5" y1="450.44" x2="367.7" y2="450.44" stroke="#e6eaf4" stroke-width="0.8"/>
<line x1="232.5" y1="459.26" x2="367.7" y2="459.26" stroke="#e6eaf4" stroke-width="0.8"/>
<line x1="232.5" y1="468.08" x2="367.7" y2="468.08" stroke="#e6eaf4" stroke-width="0.8"/>
<path d="M237.04 461.73C240.58 461.9 244.12 462.38 247.65 462.22C250.37 462.1 253.1 460.21 255.82 459.78C258.54 459.34 261.26 459.39 263.98 459.61C266.16 459.79 268.33 462.41 270.51 462.88C273.78 463.58 277.04 463.17 280.31 463.37C284.12 463.6 287.93 464.43 291.73 464.18C293.91 464.04 296.09 461.84 298.27 461.73C300.99 461.6 303.71 461.53 306.43 462.55C308.06 463.16 309.69 464.46 311.33 465.82C312.96 467.18 314.59 470.42 316.22 470.71C317.86 471.01 319.49 470.97 321.12 470.71C323.3 470.37 325.48 468.13 327.65 466.63C329.83 465.14 332.01 462.39 334.18 461.73C337.45 460.75 340.71 461.14 343.98 460.92C347.24 460.7 350.51 460.34 353.78 460.43C355.41 460.47 357.04 460.73 358.67 461.24C360.03 461.67 361.39 462.44 362.76 463.04" fill="none" stroke="#1f5fa8" stroke-width="1.75" stroke-linecap="round" stroke-linejoin="round"/>
<path d="M237.04 456.35C238.67 454.33 240.31 451.78 241.94 450.31C243.57 448.84 245.2 447.92 246.84 447.53C249.83 446.81 252.82 446.74 255.82 447.04C257.99 447.26 260.17 450.98 262.35 451.12C263.98 451.23 265.61 450.96 267.24 450.63C268.88 450.31 270.51 449.1 272.14 449.16C273.5 449.21 274.86 449.98 276.22 451.12C277.59 452.27 278.95 455.72 280.31 456.02C283.03 456.63 285.75 454.9 288.47 454.71C292.28 454.45 296.09 454.45 299.9 454.71C302.07 454.86 304.25 456.7 306.43 457.65C308.61 458.61 310.78 459.88 312.96 460.43C315.14 460.97 317.31 461.06 319.49 460.92C321.67 460.78 323.84 459.57 326.02 457.65C327.65 456.21 329.29 453.52 330.92 451.94C332.28 450.62 333.64 448.8 335 448.67C336.36 448.55 337.72 449.19 339.08 449.49C341.26 449.97 343.44 451.22 345.61 451.12C347.79 451.02 349.97 447.68 352.14 447.53C354.32 447.38 356.5 447.4 358.67 448.18C360.03 448.67 361.39 449.6 362.76 450.31" fill="none" stroke="#f26a1c" stroke-width="1.75" stroke-linecap="round" stroke-linejoin="round"/>
<text x="293.9" y="487.2" font-size="5.2" fill="#222" text-anchor="middle" font-weight="bold" textLength="10.5" lengthAdjust="spacingAndGlyphs">Time</text>
<text x="216.5" y="454.4" font-size="6.2" fill="#111" text-anchor="middle" font-weight="bold" textLength="15.5" lengthAdjust="spacingAndGlyphs" transform="rotate(-90 216.5 454.4)">deg c</text>
<circle cx="264.2" cy="496.7" r="1.95" fill="#1f5fa8"/>
<text x="269.1" y="499.2" font-size="7.3" fill="#636363" text-anchor="start" font-weight="normal" textLength="17.6" lengthAdjust="spacingAndGlyphs">Actual</text>
<circle cx="293.4" cy="496.7" r="1.95" fill="#f26a1c"/>
<text x="298.3" y="499.2" font-size="7.3" fill="#636363" text-anchor="start" font-weight="normal" textLength="30" lengthAdjust="spacingAndGlyphs">Optimized</text>
<text x="487.8" y="66" font-size="7.6" fill="#ca2b31" text-anchor="middle" font-weight="normal" textLength="97" lengthAdjust="spacingAndGlyphs" stroke="#ca2b31" stroke-width=".22">HydroCarbon (HC) Flow Rate</text>
<text x="677.2" y="66" font-size="7.6" fill="#ca2b31" text-anchor="middle" font-weight="normal" textLength="81" lengthAdjust="spacingAndGlyphs" stroke="#ca2b31" stroke-width=".22">Steam to Oil (S/O) Ratio</text>
<text x="866.2" y="66" font-size="7.6" fill="#ca2b31" text-anchor="middle" font-weight="normal" textLength="84" lengthAdjust="spacingAndGlyphs" stroke="#ca2b31" stroke-width=".22">Coil Outlet Temperature</text>
<line x1="413.3" y1="79.9" x2="567.5" y2="79.9" stroke="#ababab" stroke-width="1.1" stroke-dasharray="1.9 1.7"/>
<line x1="413.3" y1="103.9" x2="567.5" y2="103.9" stroke="#ababab" stroke-width="1.1" stroke-dasharray="1.9 1.7"/>
<line x1="413.3" y1="119.6" x2="567.5" y2="119.6" stroke="#ababab" stroke-width="1.1" stroke-dasharray="1.9 1.7"/>
<line x1="413.3" y1="143.6" x2="567.5" y2="143.6" stroke="#ababab" stroke-width="1.1" stroke-dasharray="1.9 1.7"/>
<line x1="413.3" y1="159.3" x2="567.5" y2="159.3" stroke="#ababab" stroke-width="1.1" stroke-dasharray="1.9 1.7"/>
<line x1="413.3" y1="183.3" x2="567.5" y2="183.3" stroke="#ababab" stroke-width="1.1" stroke-dasharray="1.9 1.7"/>
<line x1="413.3" y1="199" x2="567.5" y2="199" stroke="#ababab" stroke-width="1.1" stroke-dasharray="1.9 1.7"/>
<line x1="413.3" y1="223" x2="567.5" y2="223" stroke="#ababab" stroke-width="1.1" stroke-dasharray="1.9 1.7"/>
<line x1="413.3" y1="238.7" x2="567.5" y2="238.7" stroke="#ababab" stroke-width="1.1" stroke-dasharray="1.9 1.7"/>
<line x1="413.3" y1="262.7" x2="567.5" y2="262.7" stroke="#ababab" stroke-width="1.1" stroke-dasharray="1.9 1.7"/>
<line x1="413.3" y1="278.4" x2="567.5" y2="278.4" stroke="#ababab" stroke-width="1.1" stroke-dasharray="1.9 1.7"/>
<line x1="413.3" y1="302.4" x2="567.5" y2="302.4" stroke="#ababab" stroke-width="1.1" stroke-dasharray="1.9 1.7"/>
<line x1="413.3" y1="318.1" x2="567.5" y2="318.1" stroke="#ababab" stroke-width="1.1" stroke-dasharray="1.9 1.7"/>
<line x1="413.3" y1="342.1" x2="567.5" y2="342.1" stroke="#ababab" stroke-width="1.1" stroke-dasharray="1.9 1.7"/>
<line x1="413.3" y1="357.8" x2="567.5" y2="357.8" stroke="#ababab" stroke-width="1.1" stroke-dasharray="1.9 1.7"/>
<line x1="413.3" y1="381.8" x2="567.5" y2="381.8" stroke="#ababab" stroke-width="1.1" stroke-dasharray="1.9 1.7"/>
<line x1="599.5" y1="79.9" x2="760.6" y2="79.9" stroke="#ababab" stroke-width="1.1" stroke-dasharray="1.9 1.7"/>
<line x1="599.5" y1="103.9" x2="760.6" y2="103.9" stroke="#ababab" stroke-width="1.1" stroke-dasharray="1.9 1.7"/>
<line x1="599.5" y1="119.6" x2="760.6" y2="119.6" stroke="#ababab" stroke-width="1.1" stroke-dasharray="1.9 1.7"/>
<line x1="599.5" y1="143.6" x2="760.6" y2="143.6" stroke="#ababab" stroke-width="1.1" stroke-dasharray="1.9 1.7"/>
<line x1="599.5" y1="159.3" x2="760.6" y2="159.3" stroke="#ababab" stroke-width="1.1" stroke-dasharray="1.9 1.7"/>
<line x1="599.5" y1="183.3" x2="760.6" y2="183.3" stroke="#ababab" stroke-width="1.1" stroke-dasharray="1.9 1.7"/>
<line x1="599.5" y1="199" x2="760.6" y2="199" stroke="#ababab" stroke-width="1.1" stroke-dasharray="1.9 1.7"/>
<line x1="599.5" y1="223" x2="760.6" y2="223" stroke="#ababab" stroke-width="1.1" stroke-dasharray="1.9 1.7"/>
<line x1="599.5" y1="238.7" x2="760.6" y2="238.7" stroke="#ababab" stroke-width="1.1" stroke-dasharray="1.9 1.7"/>
<line x1="599.5" y1="262.7" x2="760.6" y2="262.7" stroke="#ababab" stroke-width="1.1" stroke-dasharray="1.9 1.7"/>
<line x1="599.5" y1="278.4" x2="760.6" y2="278.4" stroke="#ababab" stroke-width="1.1" stroke-dasharray="1.9 1.7"/>
<line x1="599.5" y1="302.4" x2="760.6" y2="302.4" stroke="#ababab" stroke-width="1.1" stroke-dasharray="1.9 1.7"/>
<line x1="599.5" y1="318.1" x2="760.6" y2="318.1" stroke="#ababab" stroke-width="1.1" stroke-dasharray="1.9 1.7"/>
<line x1="599.5" y1="342.1" x2="760.6" y2="342.1" stroke="#ababab" stroke-width="1.1" stroke-dasharray="1.9 1.7"/>
<line x1="599.5" y1="357.8" x2="760.6" y2="357.8" stroke="#ababab" stroke-width="1.1" stroke-dasharray="1.9 1.7"/>
<line x1="599.5" y1="381.8" x2="760.6" y2="381.8" stroke="#ababab" stroke-width="1.1" stroke-dasharray="1.9 1.7"/>
<line x1="792" y1="79.9" x2="946.8" y2="79.9" stroke="#ababab" stroke-width="1.1" stroke-dasharray="1.9 1.7"/>
<line x1="792" y1="103.9" x2="946.8" y2="103.9" stroke="#ababab" stroke-width="1.1" stroke-dasharray="1.9 1.7"/>
<line x1="792" y1="119.6" x2="946.8" y2="119.6" stroke="#ababab" stroke-width="1.1" stroke-dasharray="1.9 1.7"/>
<line x1="792" y1="143.6" x2="946.8" y2="143.6" stroke="#ababab" stroke-width="1.1" stroke-dasharray="1.9 1.7"/>
<line x1="792" y1="159.3" x2="946.8" y2="159.3" stroke="#ababab" stroke-width="1.1" stroke-dasharray="1.9 1.7"/>
<line x1="792" y1="183.3" x2="946.8" y2="183.3" stroke="#ababab" stroke-width="1.1" stroke-dasharray="1.9 1.7"/>
<line x1="792" y1="199" x2="946.8" y2="199" stroke="#ababab" stroke-width="1.1" stroke-dasharray="1.9 1.7"/>
<line x1="792" y1="223" x2="946.8" y2="223" stroke="#ababab" stroke-width="1.1" stroke-dasharray="1.9 1.7"/>
<line x1="792" y1="238.7" x2="946.8" y2="238.7" stroke="#ababab" stroke-width="1.1" stroke-dasharray="1.9 1.7"/>
<line x1="792" y1="262.7" x2="946.8" y2="262.7" stroke="#ababab" stroke-width="1.1" stroke-dasharray="1.9 1.7"/>
<line x1="792" y1="278.4" x2="946.8" y2="278.4" stroke="#ababab" stroke-width="1.1" stroke-dasharray="1.9 1.7"/>
<line x1="792" y1="302.4" x2="946.8" y2="302.4" stroke="#ababab" stroke-width="1.1" stroke-dasharray="1.9 1.7"/>
<line x1="792" y1="318.1" x2="946.8" y2="318.1" stroke="#ababab" stroke-width="1.1" stroke-dasharray="1.9 1.7"/>
<line x1="792" y1="342.1" x2="946.8" y2="342.1" stroke="#ababab" stroke-width="1.1" stroke-dasharray="1.9 1.7"/>
<line x1="792" y1="357.8" x2="946.8" y2="357.8" stroke="#ababab" stroke-width="1.1" stroke-dasharray="1.9 1.7"/>
<line x1="792" y1="381.8" x2="946.8" y2="381.8" stroke="#ababab" stroke-width="1.1" stroke-dasharray="1.9 1.7"/>
<path d="M413.3 99.5C424.65 99.39 436 97.7 447.36 99.15C448.8 99.34 450.24 100.59 451.68 101.24C453.41 102.01 455.13 103.34 456.86 103.32C458.3 103.3 459.74 102.74 461.18 101.58C462.63 100.43 464.07 97.48 465.51 96.38C466.95 95.28 468.39 95.26 469.83 94.99C473 94.4 476.17 94.62 479.34 94.64C482.79 94.67 486.25 95.67 489.71 95.68C493.45 95.7 497.2 94.55 500.95 94.82C502.39 94.92 503.83 95.68 505.27 96.38C506.71 97.07 508.15 98.85 509.59 98.98C512.76 99.27 515.93 98.9 519.1 98.98C523.71 99.1 528.32 99.9 532.93 99.85C536.38 99.81 539.84 98.71 543.3 98.63C551.37 98.45 559.43 98.87 567.5 98.98" fill="none" stroke="#1d62a7" stroke-width="1.7" stroke-linecap="round" stroke-linejoin="round"/>
<path d="M413.3 92.39C420.62 92.45 427.94 92.62 435.25 92.56C439.29 92.53 443.32 91.63 447.36 92.04C449.08 92.22 450.81 93.98 452.54 94.64C454.27 95.31 456 96.18 457.73 96.03C458.88 95.93 460.03 94.88 461.18 93.78C462.34 92.68 463.49 90.41 464.64 89.44C466.08 88.23 467.52 88.41 468.96 88.05C472.42 87.2 475.88 87.33 479.34 87.36C482.79 87.38 486.25 88.54 489.71 88.57C493.74 88.62 497.78 87.65 501.81 87.88C503.25 87.96 504.69 88.52 506.13 89.09C508.72 90.12 511.32 91.85 513.91 93.78C515.64 95.06 517.37 97.25 519.1 98.11C520.83 98.98 522.55 99.17 524.28 98.98C525.72 98.82 527.16 96.52 528.6 95.51C530.04 94.5 531.49 93.56 532.93 92.91C535.81 91.6 538.69 91.6 541.57 91.52C546.18 91.4 550.79 91.86 555.4 91.87C559.43 91.87 563.47 91.75 567.5 91.7" fill="none" stroke="#2ab337" stroke-width="1.7" stroke-linecap="round" stroke-linejoin="round"/>
<path d="M413.3 134C417.45 134.17 421.6 133.82 425.75 134.52C428.34 134.96 430.93 136.62 433.53 136.95C437.85 137.49 442.17 137.1 446.49 137.29C450.24 137.46 453.98 138.55 457.73 137.99C459.17 137.77 460.61 135.93 462.05 134.86C463.49 133.79 464.93 131.91 466.37 131.57C468.96 130.95 471.56 131.27 474.15 131.22C489.71 130.94 505.27 131.33 520.83 131.05C523.71 131 526.59 129.29 529.47 128.79C531.77 128.4 534.08 128.25 536.38 128.1C539.84 127.87 543.3 127.67 546.76 127.93C549.06 128.1 551.37 130.61 553.67 130.87C558.28 131.41 562.89 131.11 567.5 131.22" fill="none" stroke="#1d62a7" stroke-width="1.7" stroke-linecap="round" stroke-linejoin="round"/>
<path d="M413.3 128.79C417.16 128.91 421.02 128.58 424.88 129.14C426.32 129.35 427.76 130.08 429.2 130.53C430.93 131.07 432.66 131.98 434.39 132.09C438.42 132.34 442.46 131.88 446.49 131.92C450.24 131.95 453.98 133.35 457.73 132.78C459.17 132.57 460.61 130.76 462.05 129.66C463.49 128.56 464.93 126.62 466.37 126.19C468.96 125.42 471.56 125.7 474.15 125.67C486.83 125.53 499.5 125.53 512.18 125.67C513.62 125.69 515.06 126.71 516.5 127.58C517.94 128.45 519.38 130.62 520.83 130.87C522.27 131.13 523.71 131.13 525.15 130.87C526.3 130.67 527.45 128.27 528.6 127.06C529.76 125.84 530.91 124.22 532.06 123.59C534.08 122.48 536.1 122.91 538.11 122.72C540.99 122.46 543.87 122.36 546.76 122.55C549.06 122.7 551.37 124.98 553.67 125.32C558.28 126.01 562.89 125.67 567.5 125.84" fill="none" stroke="#2ab337" stroke-width="1.7" stroke-linecap="round" stroke-linejoin="round"/>
<path d="M413.3 183.58C415.14 181.27 416.99 178.69 418.83 176.65C421.14 174.09 423.44 171.94 425.75 170.23C427.48 168.95 429.2 167.71 430.93 167.11C432.66 166.5 434.39 166.6 436.12 166.59C439.58 166.55 443.03 167.37 446.49 167.63C449.95 167.89 453.41 168.11 456.86 168.15C464.35 168.22 471.85 167.57 479.34 167.97C481.35 168.08 483.37 169 485.39 169.36C487.12 169.67 488.84 170.16 490.57 170.05C492.01 169.97 493.45 168.81 494.89 167.97C496.34 167.13 497.78 165.43 499.22 165.02C500.66 164.61 502.1 164.82 503.54 164.85C505.84 164.91 508.15 166.36 510.45 166.76C514.49 167.46 518.52 167.18 522.55 167.28C530.04 167.47 537.54 167.09 545.03 167.28C548.48 167.37 551.94 167.8 555.4 167.97C559.43 168.17 563.47 168.2 567.5 168.32" fill="none" stroke="#1d62a7" stroke-width="1.7" stroke-linecap="round" stroke-linejoin="round"/>
<path d="M413.3 180.12C415.14 177.8 416.99 175.18 418.83 173.18C421.14 170.67 423.44 168.77 425.75 167.11C427.48 165.86 429.2 164.59 430.93 163.98C432.66 163.38 434.39 163.48 436.12 163.46C439.58 163.43 443.03 164.24 446.49 164.5C449.95 164.76 453.41 164.99 456.86 165.02C464.35 165.09 471.85 164.26 479.34 164.68C481.07 164.77 482.79 165.58 484.52 165.89C486.54 166.25 488.56 166.75 490.57 166.59C492.01 166.46 493.45 164.94 494.89 164.16C496.34 163.38 497.78 162.16 499.22 161.9C500.66 161.64 502.1 161.76 503.54 161.9C505.84 162.12 508.15 163.23 510.45 163.64C514.49 164.34 518.52 164.13 522.55 164.16C530.04 164.21 537.54 163.86 545.03 163.98C548.48 164.04 551.94 164.65 555.4 164.85C559.43 165.09 563.47 165.08 567.5 165.2" fill="none" stroke="#2ab337" stroke-width="1.7" stroke-linecap="round" stroke-linejoin="round"/>
<path d="M413.3 213.4C414.57 211.55 415.84 209.22 417.1 207.85C418.83 205.98 420.56 205.24 422.29 204.9C426.61 204.05 430.93 204.23 435.25 204.2C439 204.19 442.75 203.96 446.49 204.38C447.64 204.5 448.8 206.11 449.95 207.5C451.1 208.89 452.25 211.58 453.41 212.7C454.56 213.83 455.71 214.26 456.86 214.26C458.02 214.26 459.17 213.83 460.32 212.7C461.47 211.58 462.63 208.95 463.78 207.5C464.93 206.05 466.08 204.1 467.24 204.03C471.27 203.78 475.3 203.93 479.34 204.03C483.08 204.12 486.83 204.52 490.57 204.55C497.78 204.61 504.98 204.36 512.18 204.38C519.38 204.39 526.59 205.02 533.79 204.9C536.96 204.84 540.13 204.06 543.3 204.03C547.33 203.99 551.37 204.46 555.4 204.55C559.43 204.64 563.47 204.55 567.5 204.55" fill="none" stroke="#1d62a7" stroke-width="1.2" stroke-linecap="round" stroke-linejoin="round"/>
<path d="M413.3 213.22C414.57 211.37 415.84 209.05 417.1 207.67C418.83 205.8 420.56 205.06 422.29 204.72C426.61 203.88 430.93 204.05 435.25 204.03C439 204.01 442.75 203.79 446.49 204.2C447.64 204.33 448.8 205.94 449.95 207.33C451.1 208.71 452.25 211.4 453.41 212.53C454.56 213.66 455.71 214.09 456.86 214.09C458.02 214.09 459.17 213.66 460.32 212.53C461.47 211.4 462.63 208.77 463.78 207.33C464.93 205.88 466.08 203.93 467.24 203.86C471.27 203.6 475.3 203.76 479.34 203.86C483.08 203.95 486.83 204.35 490.57 204.38C497.78 204.44 504.98 204.19 512.18 204.2C519.38 204.22 526.59 204.85 533.79 204.72C536.96 204.67 540.13 203.89 543.3 203.86C547.33 203.82 551.37 204.29 555.4 204.38C559.43 204.46 563.47 204.38 567.5 204.38" fill="none" stroke="#2ab337" stroke-width="1.7" stroke-linecap="round" stroke-linejoin="round"/>
<path d="M413.3 257.61C415.14 256.62 416.99 255.36 418.83 254.66C420.56 254 422.29 253.44 424.02 253.44C425.75 253.44 427.48 254.17 429.2 254.66C430.93 255.15 432.66 256.27 434.39 256.39C439.58 256.77 444.76 256.57 449.95 256.05C452.25 255.81 454.56 254.85 456.86 253.62C458.59 252.7 460.32 251.13 462.05 250.15C463.49 249.33 464.93 248.13 466.37 248.07C467.81 248.01 469.25 247.92 470.69 248.93C471.85 249.74 473 252.02 474.15 253.1C475.59 254.45 477.03 255.51 478.47 255.7C482.79 256.28 487.12 255.92 491.44 255.53C493.17 255.37 494.89 253.21 496.62 252.4C498.35 251.59 500.08 251.09 501.81 250.67C505.27 249.82 508.72 250.12 512.18 249.97C516.22 249.8 520.25 250.21 524.28 249.8C527.16 249.51 530.04 248.05 532.93 247.55C536.96 246.84 540.99 246.86 545.03 246.85C548.48 246.84 551.94 247.24 555.4 247.2C559.43 247.15 563.47 246.16 567.5 245.64" fill="none" stroke="#1d62a7" stroke-width="1.7" stroke-linecap="round" stroke-linejoin="round"/>
<path d="M413.3 252.23C415.14 251.25 416.99 249.98 418.83 249.28C420.56 248.63 422.29 248.07 424.02 248.07C425.75 248.07 427.48 248.79 429.2 249.28C430.93 249.77 432.66 250.89 434.39 251.02C439.58 251.4 444.76 251.19 449.95 250.67C452.25 250.44 454.56 249.62 456.86 248.41C458.59 247.51 460.32 245.96 462.05 244.94C463.49 244.1 464.93 242.76 466.37 242.69C467.81 242.62 469.25 242.55 470.69 243.56C471.85 244.37 473 246.5 474.15 247.55C475.59 248.86 477.03 249.95 478.47 250.15C482.79 250.73 487.12 250.37 491.44 249.97C493.17 249.82 494.89 247.81 496.62 247.03C498.35 246.25 500.08 245.72 501.81 245.29C505.27 244.44 508.72 244.75 512.18 244.6C516.22 244.43 520.25 244.83 524.28 244.42C527.16 244.14 530.04 242.5 532.93 242C536.96 241.29 540.99 241.48 545.03 241.48C548.48 241.47 551.94 241.87 555.4 241.82C559.43 241.76 563.47 240.67 567.5 240.09" fill="none" stroke="#2ab337" stroke-width="1.7" stroke-linecap="round" stroke-linejoin="round"/>
<path d="M413.3 290.02C416.87 291.18 420.45 292.44 424.02 293.49C427.48 294.51 430.93 296.05 434.39 296.27C438.42 296.52 442.46 296.01 446.49 296.27C448.51 296.39 450.52 297.41 452.54 297.83C454.27 298.19 456 298.8 457.73 298.69C459.17 298.6 460.61 297.65 462.05 296.44C463.49 295.23 464.93 292.73 466.37 291.41C468.39 289.56 470.4 288.69 472.42 287.94C474.15 287.3 475.88 286.93 477.61 286.9C487.98 286.74 498.35 286.9 508.72 286.9C528.32 286.9 547.91 286.9 567.5 286.9" fill="none" stroke="#1d62a7" stroke-width="1.7" stroke-linecap="round" stroke-linejoin="round"/>
<path d="M413.3 284.82C416.87 285.86 420.45 286.91 424.02 287.94C427.48 288.94 430.93 290.67 434.39 290.89C438.42 291.14 442.46 290.64 446.49 290.89C448.51 291.02 450.52 292.18 452.54 292.62C454.27 293.01 456 293.62 457.73 293.49C459.17 293.38 460.61 292.19 462.05 290.89C463.49 289.59 464.93 287.01 466.37 285.69C468.39 283.84 470.4 283.21 472.42 282.56C474.73 281.82 477.03 282.04 479.34 281.87C483.08 281.59 486.83 281.52 490.57 281.52C494.32 281.52 498.06 281.87 501.81 281.87C505.27 281.87 508.72 281.26 512.18 281.52C513.33 281.61 514.49 281.98 515.64 282.74C516.79 283.49 517.94 285.26 519.1 286.03C520.54 287 521.98 287.48 523.42 287.42C524.57 287.37 525.72 286.49 526.88 285.69C528.03 284.88 529.18 283.26 530.33 282.56C531.49 281.87 532.64 281.6 533.79 281.52C537.54 281.27 541.28 281.85 545.03 281.87C552.52 281.9 560.01 281.64 567.5 281.52" fill="none" stroke="#2ab337" stroke-width="1.7" stroke-linecap="round" stroke-linejoin="round"/>
<path d="M413.3 335.79C424.36 335.79 435.43 335.64 446.49 335.79C449.95 335.84 453.41 335.83 456.86 336.14C459.17 336.34 461.47 336.66 463.78 337.01C465.51 337.27 467.24 338.07 468.96 337.87C470.12 337.74 471.27 336.37 472.42 335.27C473.86 333.9 475.3 331 476.74 330.07C477.9 329.32 479.05 329.47 480.2 329.37C483.66 329.1 487.12 329.1 490.57 329.37C492.3 329.51 494.03 330.4 495.76 330.94C497.2 331.39 498.64 332.26 500.08 332.32C508.15 332.65 516.22 333.24 524.28 332.5C525.72 332.37 527.16 331.44 528.6 330.94C530.33 330.33 532.06 329.32 533.79 329.2C537.54 328.96 541.28 328.98 545.03 329.55C546.76 329.81 548.48 330.73 550.21 331.28C551.94 331.83 553.67 332.74 555.4 332.84C559.43 333.09 563.47 332.61 567.5 332.5" fill="none" stroke="#1d62a7" stroke-width="1.7" stroke-linecap="round" stroke-linejoin="round"/>
<path d="M413.3 330.59C420.91 330.53 428.51 329.42 436.12 330.42C437.56 330.6 439 331.77 440.44 332.67C441.88 333.57 443.32 335.53 444.76 335.79C445.91 336 447.07 336 448.22 335.79C449.66 335.53 451.1 333.19 452.54 332.32C453.98 331.46 455.42 330.68 456.86 330.59C459.17 330.45 461.47 331.15 463.78 331.46C465.79 331.73 467.81 332.68 469.83 332.32C471.27 332.07 472.71 328.8 474.15 327.47C475.59 326.14 477.03 324.54 478.47 324.34C482.51 323.79 486.54 323.72 490.57 324C492.01 324.1 493.45 324.91 494.89 325.39C496.62 325.95 498.35 327.08 500.08 327.12C508.15 327.3 516.22 327.3 524.28 327.12C525.72 327.09 527.16 325.96 528.6 325.39C530.04 324.81 531.49 323.78 532.93 323.65C536.96 323.3 540.99 323.44 545.03 324C546.76 324.24 548.48 325.15 550.21 325.73C551.94 326.31 553.67 327.35 555.4 327.47C559.43 327.74 563.47 327.24 567.5 327.12" fill="none" stroke="#2ab337" stroke-width="1.7" stroke-linecap="round" stroke-linejoin="round"/>
<path d="M413.3 377.4C415.14 376.88 416.99 376.22 418.83 375.84C420.56 375.48 422.29 375.2 424.02 375.15C431.51 374.91 439 375.35 446.49 375.67C449.95 375.81 453.41 376.19 456.86 376.19C460.9 376.19 464.93 376.35 468.96 375.49C470.69 375.13 472.42 374.19 474.15 373.41C475.88 372.63 477.61 371.51 479.34 370.81C481.35 370 483.37 369.41 485.39 369.07C487.12 368.78 488.84 368.74 490.57 368.73C494.32 368.71 498.06 369.85 501.81 369.77C505.27 369.7 508.72 368.12 512.18 367.51C515.64 366.91 519.1 366.06 522.55 366.13C524.28 366.16 526.01 366.54 527.74 366.99C529.76 367.52 531.77 368.78 533.79 369.25C537.54 370.11 541.28 369.18 545.03 369.94C546.76 370.29 548.48 370.87 550.21 371.33C551.94 371.79 553.67 372.62 555.4 372.72C559.43 372.93 563.47 372.49 567.5 372.37" fill="none" stroke="#1d62a7" stroke-width="1.7" stroke-linecap="round" stroke-linejoin="round"/>
<path d="M413.3 372.02C415.14 371.45 416.99 370.66 418.83 370.29C420.56 369.94 422.29 369.8 424.02 369.77C428.05 369.69 432.09 369.56 436.12 370.12C437.56 370.31 439 371.62 440.44 372.54C441.88 373.47 443.32 375.41 444.76 375.67C445.91 375.87 447.07 375.87 448.22 375.67C449.66 375.41 451.1 373.09 452.54 372.2C453.98 371.3 455.42 370.43 456.86 370.29C460.9 369.89 464.93 370.52 468.96 370.12C470.69 369.94 472.42 368.67 474.15 367.86C475.88 367.05 477.61 365.93 479.34 365.26C481.35 364.47 483.37 364.01 485.39 363.7C487.12 363.43 488.84 363.36 490.57 363.35C494.32 363.33 498.06 364.47 501.81 364.39C505.27 364.32 508.72 362.74 512.18 362.14C515.64 361.53 519.1 360.66 522.55 360.75C524.28 360.8 526.01 361.33 527.74 361.79C529.76 362.33 531.77 363.37 533.79 363.87C537.54 364.81 541.28 363.96 545.03 364.74C546.76 365.1 548.48 365.69 550.21 366.13C551.94 366.56 553.67 367.26 555.4 367.34C559.43 367.53 563.47 367.11 567.5 366.99" fill="none" stroke="#2ab337" stroke-width="1.7" stroke-linecap="round" stroke-linejoin="round"/>
<path d="M599.5 91.75C615.61 91.72 631.72 91.45 647.83 91.65C650.51 91.68 653.2 92.04 655.88 92.05C690.79 92.22 725.7 92.12 760.6 92.15" fill="none" stroke="#1d62a7" stroke-width="1.3" stroke-linecap="round" stroke-linejoin="round"/>
<path d="M599.5 91.5C615.61 91.47 631.72 91.2 647.83 91.4C650.51 91.43 653.2 91.79 655.88 91.8C690.79 91.97 725.7 91.87 760.6 91.9" fill="none" stroke="#2ab337" stroke-width="1.6" stroke-linecap="round" stroke-linejoin="round"/>
<path d="M599.5 131.35C614.54 131.38 629.57 131.23 644.61 131.45C648.9 131.51 653.2 131.84 657.5 131.85C691.86 131.94 726.23 131.85 760.6 131.85" fill="none" stroke="#1d62a7" stroke-width="1.3" stroke-linecap="round" stroke-linejoin="round"/>
<path d="M599.5 131.1C614.54 131.13 629.57 130.98 644.61 131.2C648.9 131.26 653.2 131.59 657.5 131.6C691.86 131.69 726.23 131.6 760.6 131.6" fill="none" stroke="#2ab337" stroke-width="1.6" stroke-linecap="round" stroke-linejoin="round"/>
<path d="M599.5 171.65C626.35 171.62 653.2 171.68 680.05 171.55C690.79 171.5 701.53 171.35 712.27 171.35C728.38 171.34 744.49 171.55 760.6 171.65" fill="none" stroke="#1d62a7" stroke-width="1.3" stroke-linecap="round" stroke-linejoin="round"/>
<path d="M599.5 171.4C626.35 171.37 653.2 171.43 680.05 171.3C690.79 171.25 701.53 171.1 712.27 171.1C728.38 171.09 744.49 171.3 760.6 171.4" fill="none" stroke="#2ab337" stroke-width="1.6" stroke-linecap="round" stroke-linejoin="round"/>
<path d="M599.5 210.55C615.61 210.65 631.72 210.52 647.83 210.85C653.2 210.96 658.57 211.22 663.94 211.25C696.16 211.45 728.38 211.12 760.6 211.05" fill="none" stroke="#1d62a7" stroke-width="1.3" stroke-linecap="round" stroke-linejoin="round"/>
<path d="M599.5 210.3C615.61 210.4 631.72 210.27 647.83 210.6C653.2 210.71 658.57 210.97 663.94 211C696.16 211.2 728.38 210.87 760.6 210.8" fill="none" stroke="#2ab337" stroke-width="1.6" stroke-linecap="round" stroke-linejoin="round"/>
<path d="M599.5 249.25C604.87 249.38 610.24 249.64 615.61 249.65C622.05 249.66 628.5 249.32 634.94 249.35C641.92 249.38 648.9 250.3 655.88 250.35C663.94 250.4 672 250.15 680.05 250.15C696.16 250.14 712.27 250.8 728.38 250.75C735.36 250.73 742.34 250.3 749.32 250.35C753.08 250.37 756.84 250.68 760.6 250.85" fill="none" stroke="#1d62a7" stroke-width="1.3" stroke-linecap="round" stroke-linejoin="round"/>
<path d="M599.5 249C604.87 249.13 610.24 249.39 615.61 249.4C622.05 249.41 628.5 249.07 634.94 249.1C641.92 249.13 648.9 250.05 655.88 250.1C663.94 250.15 672 249.9 680.05 249.9C696.16 249.89 712.27 250.55 728.38 250.5C735.36 250.48 742.34 250.05 749.32 250.1C753.08 250.12 756.84 250.43 760.6 250.6" fill="none" stroke="#2ab337" stroke-width="1.6" stroke-linecap="round" stroke-linejoin="round"/>
<path d="M599.5 290.15C614.54 290.18 629.57 290.03 644.61 290.25C648.9 290.31 653.2 290.71 657.5 290.75C670.38 290.86 683.27 290.65 696.16 290.65C717.64 290.65 739.12 290.78 760.6 290.85" fill="none" stroke="#1d62a7" stroke-width="1.3" stroke-linecap="round" stroke-linejoin="round"/>
<path d="M599.5 289.9C614.54 289.93 629.57 289.78 644.61 290C648.9 290.06 653.2 290.46 657.5 290.5C670.38 290.61 683.27 290.4 696.16 290.4C717.64 290.4 739.12 290.53 760.6 290.6" fill="none" stroke="#2ab337" stroke-width="1.6" stroke-linecap="round" stroke-linejoin="round"/>
<path d="M599.5 330.45C626.35 330.48 653.2 330.56 680.05 330.55C701.53 330.54 723.01 330.26 744.49 330.35C749.86 330.37 755.23 330.55 760.6 330.65" fill="none" stroke="#1d62a7" stroke-width="1.3" stroke-linecap="round" stroke-linejoin="round"/>
<path d="M599.5 330.2C626.35 330.23 653.2 330.31 680.05 330.3C701.53 330.29 723.01 330.01 744.49 330.1C749.86 330.12 755.23 330.3 760.6 330.4" fill="none" stroke="#2ab337" stroke-width="1.6" stroke-linecap="round" stroke-linejoin="round"/>
<path d="M599.5 369.95C610.24 369.98 620.98 369.97 631.72 370.05C642.46 370.13 653.2 370.35 663.94 370.45C680.05 370.6 696.16 370.66 712.27 370.65C728.38 370.64 744.49 370.38 760.6 370.25" fill="none" stroke="#1d62a7" stroke-width="1.3" stroke-linecap="round" stroke-linejoin="round"/>
<path d="M599.5 369.7C610.24 369.73 620.98 369.72 631.72 369.8C642.46 369.88 653.2 370.1 663.94 370.2C680.05 370.35 696.16 370.41 712.27 370.4C728.38 370.39 744.49 370.13 760.6 370" fill="none" stroke="#2ab337" stroke-width="1.6" stroke-linecap="round" stroke-linejoin="round"/>
<path d="M792 102.97C793.45 100.66 794.89 97.99 796.34 96.03C798.07 93.68 799.81 91.84 801.54 90.48C803.57 88.89 805.59 88.06 807.62 87.71C809.64 87.35 811.67 87.72 813.69 87.71C817.45 87.69 821.21 87.95 824.97 87.53C826.71 87.34 828.44 86.55 830.18 86.14C831.91 85.74 833.65 85.37 835.39 85.1C839.15 84.53 842.91 84.58 846.67 84.58C850.43 84.58 854.19 85.11 857.95 85.1C861.71 85.1 865.47 84.38 869.23 84.41C872.7 84.43 876.17 84.28 879.64 85.45C881.09 85.94 882.53 86.92 883.98 87.71C885.71 88.64 887.45 90.18 889.18 90.65C891.5 91.29 893.81 91 896.13 91C898.73 91.01 901.33 91.27 903.93 90.65C905.38 90.31 906.83 88.23 908.27 87.19C910.01 85.93 911.74 84.7 913.48 83.89C915.79 82.8 918.11 82.18 920.42 82.15C922.16 82.14 923.89 81.94 925.63 82.85C926.78 83.46 927.94 84.82 929.1 85.62C930.54 86.63 931.99 87.88 933.44 88.05C937.89 88.59 942.35 88.28 946.8 88.4" fill="none" stroke="#1d62a7" stroke-width="1.6" stroke-linecap="round" stroke-linejoin="round"/>
<path d="M792 103.32C793.45 101 794.89 98.34 796.34 96.38C798.07 94.02 799.81 92.17 801.54 90.83C803.57 89.27 805.59 88.58 807.62 88.23C809.64 87.87 811.67 88.23 813.69 88.23C817.45 88.23 821.21 88.49 824.97 88.23C826.71 88.1 828.44 87.01 830.18 86.49C831.91 85.97 833.65 85.43 835.39 85.1C839.15 84.39 842.91 84.57 846.67 84.58C850.43 84.59 854.19 85.27 857.95 85.28C861.71 85.29 865.47 84.74 869.23 84.76C872.7 84.77 876.17 84.58 879.64 85.45C881.09 85.82 882.53 86.9 883.98 87.71C885.71 88.67 887.45 90.35 889.18 90.83C891.5 91.46 893.81 91.17 896.13 91.17C898.73 91.18 901.33 91.44 903.93 90.83C905.38 90.49 906.83 88.67 908.27 87.71C910.01 86.55 911.74 85.4 913.48 84.58C915.79 83.49 918.11 82.56 920.42 82.5C922.16 82.45 923.89 82.24 925.63 82.85C926.78 83.26 927.94 84.82 929.1 85.62C930.54 86.63 931.99 87.83 933.44 88.05C937.89 88.74 942.35 88.4 946.8 88.57" fill="none" stroke="#2ab337" stroke-width="1.6" stroke-linecap="round" stroke-linejoin="round"/>
<path d="M792 142.32C793.45 139.95 794.89 137.16 796.34 135.21C798.07 132.87 799.81 131.28 801.54 130.01C803.57 128.52 805.59 127.76 807.62 127.41C809.64 127.05 811.67 127.37 813.69 127.41C817.45 127.47 821.21 128.22 824.97 127.93C826.71 127.79 828.44 126.42 830.18 125.84C831.91 125.27 833.65 124.55 835.39 124.46C839.15 124.26 842.91 124.8 846.67 124.8C850.43 124.8 854.19 124.44 857.95 124.46C861.71 124.47 865.47 125.13 869.23 125.15C872.7 125.17 876.17 124.63 879.64 124.98C881.09 125.12 882.53 126.29 883.98 127.06C885.71 127.99 887.45 129.51 889.18 130.18C891.5 131.07 893.81 130.85 896.13 130.87C898.73 130.91 901.33 131.17 903.93 130.7C905.38 130.44 906.83 128.8 908.27 127.93C910.01 126.87 911.74 125.82 913.48 124.98C915.79 123.86 918.11 122.71 920.42 122.38C922.16 122.12 923.89 122.06 925.63 122.38C926.78 122.58 927.94 124.47 929.1 125.32C930.54 126.39 931.99 127.85 933.44 127.93C937.89 128.17 942.35 127.93 946.8 127.93" fill="none" stroke="#1d62a7" stroke-width="1.6" stroke-linecap="round" stroke-linejoin="round"/>
<path d="M792 142.67C793.45 140.36 794.89 137.65 796.34 135.73C798.07 133.43 799.81 131.85 801.54 130.53C803.57 128.98 805.59 128.09 807.62 127.58C809.64 127.07 811.67 127.4 813.69 127.41C817.45 127.42 821.21 128.5 824.97 128.27C826.71 128.17 828.44 127.09 830.18 126.54C831.91 125.99 833.65 125.17 835.39 124.98C839.15 124.56 842.91 124.89 846.67 124.8C850.43 124.72 854.19 124.44 857.95 124.46C861.71 124.47 865.47 125.16 869.23 125.15C872.7 125.15 876.17 124.1 879.64 124.46C881.09 124.61 882.53 125.82 883.98 126.71C885.71 127.78 887.45 129.94 889.18 130.53C891.5 131.31 893.81 131.04 896.13 131.05C898.73 131.06 901.33 131.32 903.93 130.7C905.38 130.36 906.83 128.8 908.27 127.93C910.01 126.87 911.74 125.82 913.48 124.98C915.79 123.86 918.11 122.71 920.42 122.38C922.16 122.12 923.89 122.06 925.63 122.38C926.78 122.58 927.94 124.47 929.1 125.32C930.54 126.39 931.99 127.85 933.44 127.93C937.89 128.17 942.35 127.93 946.8 127.93" fill="none" stroke="#2ab337" stroke-width="1.6" stroke-linecap="round" stroke-linejoin="round"/>
<path d="M792 171.96C795.47 172.83 798.94 174.09 802.41 174.56C806.46 175.12 810.51 174.36 814.56 174.91C816.3 175.15 818.03 176.82 819.77 177.51C821.79 178.33 823.82 179.49 825.84 179.25C827.58 179.04 829.31 175.78 831.05 174.04C832.49 172.6 833.94 169.79 835.39 169.71C836.83 169.62 838.28 171.03 839.72 172.31C841.46 173.85 843.2 177.21 844.93 178.73C846.96 180.5 848.98 181.29 851 181.5C853.9 181.8 856.79 181.8 859.68 181.5C860.84 181.38 862 177.11 863.15 174.91C864.31 172.71 865.47 169.57 866.62 168.32C867.49 167.38 868.36 167.09 869.23 167.11C870.38 167.12 871.54 168.1 872.7 169.71C874.14 171.72 875.59 177.28 877.04 179.25C878.48 181.21 879.93 181.41 881.37 181.5C883.98 181.67 886.58 178.97 889.18 178.9C891.5 178.84 893.81 179.57 896.13 179.77C898.73 179.99 901.33 180.71 903.93 180.12C905.38 179.79 906.83 176.88 908.27 174.91C909.72 172.95 911.17 170.24 912.61 168.32C915.22 164.87 917.82 160.95 920.42 160.69C925.63 160.16 930.83 160.07 936.04 160.34C939.63 160.53 943.21 162.54 946.8 163.64" fill="none" stroke="#1d62a7" stroke-width="1.6" stroke-linecap="round" stroke-linejoin="round"/>
<path d="M792 172.83C795.47 173.64 798.94 174.91 802.41 175.26C806.46 175.66 810.51 175.03 814.56 175.43C816.3 175.6 818.03 177.36 819.77 178.03C821.79 178.82 823.82 179.77 825.84 179.59C827.29 179.47 828.73 177.62 830.18 176.65C831.91 175.48 833.65 173.16 835.39 173.18C836.83 173.19 838.28 174.71 839.72 175.78C841.46 177.06 843.2 179.32 844.93 180.46C846.96 181.79 848.98 182.42 851 182.72C853.32 183.05 855.63 183.05 857.95 182.72C859.39 182.51 860.84 180.83 862.28 178.38C863.44 176.42 864.6 172.16 865.76 170.57C866.91 168.98 868.07 168.8 869.23 168.84C870.38 168.88 871.54 169.93 872.7 171.44C874.14 173.33 875.59 178.32 877.04 180.12C878.48 181.91 879.93 182.11 881.37 182.2C883.98 182.35 886.58 179.78 889.18 179.77C891.5 179.76 893.81 181.01 896.13 181.5C898.44 181.99 900.75 183.1 903.07 182.72C904.51 182.48 905.96 180.55 907.41 178.38C908.85 176.21 910.3 172.14 911.74 169.71C914.64 164.85 917.53 160.99 920.42 160.69C922.74 160.45 925.05 160.48 927.36 160.69C930.26 160.94 933.15 161.69 936.04 162.42C939.63 163.34 943.21 164.74 946.8 165.89" fill="none" stroke="#2ab337" stroke-width="1.6" stroke-linecap="round" stroke-linejoin="round"/>
<path d="M792 221.55C793.45 218.95 794.89 215.82 796.34 213.74C798.07 211.25 799.81 209.82 801.54 208.54C803.57 207.05 805.59 206.43 807.62 205.94C809.64 205.45 811.67 205.68 813.69 205.59C817.74 205.42 821.79 205.82 825.84 205.42C827.58 205.25 829.31 203.58 831.05 202.99C832.49 202.49 833.94 202.05 835.39 201.95C839.15 201.69 842.91 201.69 846.67 201.95C848.4 202.07 850.14 202.2 851.87 202.47C853.32 202.69 854.76 203.28 856.21 203.34C860.55 203.52 864.89 202.81 869.23 202.82C871.25 202.82 873.28 202.68 875.3 202.99C877.61 203.35 879.93 204.2 882.24 205.07C884.56 205.94 886.87 207.76 889.18 208.19C894.39 209.17 899.6 209.92 904.8 209.06C906.25 208.82 907.7 206.83 909.14 205.94C910.88 204.86 912.61 204.19 914.35 203.34C916.37 202.34 918.4 200.75 920.42 200.39C922.16 200.08 923.89 200.08 925.63 200.39C927.07 200.65 928.52 202.67 929.97 203.68C931.12 204.49 932.28 205.88 933.44 205.94C937.89 206.18 942.35 205.94 946.8 205.94" fill="none" stroke="#1d62a7" stroke-width="1.6" stroke-linecap="round" stroke-linejoin="round"/>
<path d="M792 222.42C793.45 220.39 794.89 218.11 796.34 216.35C798.07 214.23 799.81 212.47 801.54 211.14C803.57 209.6 805.59 208.7 807.62 208.19C809.64 207.69 811.67 208.06 813.69 208.02C817.74 207.94 821.79 208.27 825.84 208.02C827.87 207.89 829.89 206.62 831.91 205.94C834.23 205.16 836.54 204.3 838.86 203.68C841.46 202.99 844.06 202.11 846.67 202.12C848.4 202.13 850.14 202.48 851.87 202.99C853.32 203.41 854.76 204.69 856.21 204.72C864.02 204.91 871.83 204.54 879.64 204.72C881.37 204.76 883.11 206.34 884.85 207.33C886.58 208.31 888.32 210.54 890.05 210.62C894.97 210.85 899.89 210.85 904.8 210.62C906.25 210.55 907.7 208.32 909.14 207.33C910.88 206.13 912.61 205.06 914.35 204.2C916.37 203.2 918.4 202.04 920.42 201.95C922.16 201.87 923.89 201.66 925.63 202.12C927.07 202.51 928.52 204.03 929.97 205.07C931.12 205.9 932.28 207.53 933.44 207.67C937.89 208.21 942.35 207.9 946.8 208.02" fill="none" stroke="#2ab337" stroke-width="1.6" stroke-linecap="round" stroke-linejoin="round"/>
<path d="M792 262.29C793.45 259.98 794.89 257.38 796.34 255.35C798.07 252.92 799.81 250.87 801.54 249.28C803.57 247.42 805.59 246.19 807.62 245.46C809.64 244.74 811.67 245.06 813.69 244.94C817.74 244.71 821.79 245.2 825.84 244.94C827.58 244.84 829.31 241.57 831.05 240.61C832.49 239.81 833.94 239.28 835.39 239.22C837.7 239.12 840.01 239.78 842.33 240.09C845.51 240.51 848.69 241.31 851.87 241.48C861.13 241.94 870.38 241.35 879.64 241.82C881.37 241.91 883.11 243.71 884.85 244.94C886.29 245.97 887.74 248.35 889.18 248.41C894.39 248.64 899.6 248.64 904.8 248.41C906.25 248.35 907.7 245.29 909.14 244.08C911.74 241.89 914.35 240.59 916.95 239.74C919.26 238.98 921.58 238.69 923.89 238.87C925.63 239.01 927.36 240.81 929.1 241.82C930.83 242.83 932.57 244.34 934.3 244.94C938.47 246.4 942.63 245.87 946.8 246.33" fill="none" stroke="#1d62a7" stroke-width="1.6" stroke-linecap="round" stroke-linejoin="round"/>
<path d="M792 262.29C793.45 259.98 794.89 257.38 796.34 255.35C798.07 252.92 799.81 250.87 801.54 249.28C803.57 247.42 805.59 246.19 807.62 245.46C809.64 244.74 811.67 244.95 813.69 244.94C817.74 244.93 821.79 247.04 825.84 246.68C827.87 246.5 829.89 244.44 831.91 243.56C834.23 242.54 836.54 241.63 838.86 241.13C841.46 240.56 844.06 240.47 846.67 240.61C848.4 240.7 850.14 241.62 851.87 242.34C853.9 243.19 855.92 245.43 857.95 245.46C860.26 245.51 862.57 242.92 864.89 242.34C867.2 241.76 869.52 241.89 871.83 242C874.43 242.11 877.04 243.98 879.64 244.94C882.82 246.13 886 248.28 889.18 248.41C894.39 248.64 899.6 248.64 904.8 248.41C907.7 248.29 910.59 247.12 913.48 245.81C915.79 244.76 918.11 242.57 920.42 241.82C922.16 241.26 923.89 241.06 925.63 241.13C927.94 241.22 930.26 243.67 932.57 244.6C934.88 245.52 937.2 245.97 939.51 246.68C941.94 247.42 944.37 248.18 946.8 248.93" fill="none" stroke="#2ab337" stroke-width="1.6" stroke-linecap="round" stroke-linejoin="round"/>
<path d="M792 301.82C793.45 299.62 794.89 297.19 796.34 295.23C798.07 292.87 799.81 290.66 801.54 289.15C803.28 287.65 805.02 286.79 806.75 286.21C809.07 285.42 811.38 285.83 813.69 285.69C817.74 285.43 821.79 285.87 825.84 285.16C827.87 284.81 829.89 283.2 831.91 282.56C833.07 282.2 834.23 281.77 835.39 281.7C843.77 281.15 852.16 281.84 860.55 281.87C866.91 281.89 873.28 281.67 879.64 281.87C881.37 281.92 883.11 283.61 884.85 284.82C886.29 285.82 887.74 288.14 889.18 288.29C894.39 288.81 899.6 289.7 904.8 288.63C906.25 288.34 907.7 285.92 909.14 284.82C911.74 282.83 914.35 281.41 916.95 280.48C919.55 279.56 922.16 278.93 924.76 279.27C926.21 279.46 927.65 281.55 929.1 282.56C930.54 283.57 931.99 285.13 933.44 285.34C937.89 285.98 942.35 285.22 946.8 285.16" fill="none" stroke="#1d62a7" stroke-width="1.6" stroke-linecap="round" stroke-linejoin="round"/>
<path d="M792 301.82C793.45 299.62 794.89 297.19 796.34 295.23C798.07 292.87 799.81 291.21 801.54 289.15C802.99 287.44 804.44 285.16 805.88 283.95C807.62 282.5 809.35 281.96 811.09 281.87C812.83 281.78 814.56 281.72 816.3 282.22C818.03 282.71 819.77 284.33 821.5 284.82C823.24 285.31 824.97 285.28 826.71 285.16C828.44 285.05 830.18 283.27 831.91 282.56C833.07 282.09 834.23 281.44 835.39 281.35C839.15 281.06 842.91 281.73 846.67 281.87C851.29 282.04 855.92 281.68 860.55 282.22C862 282.38 863.44 283.94 864.89 284.47C867.2 285.32 869.52 285.14 871.83 285.34C874.43 285.57 877.04 285.26 879.64 285.69C882.82 286.21 886 288.41 889.18 288.63C894.39 289.01 899.6 289.1 904.8 288.81C907.7 288.64 910.59 287.43 913.48 286.21C915.79 285.22 918.11 283.26 920.42 282.56C922.16 282.04 923.89 281.65 925.63 281.87C927.07 282.05 928.52 284.53 929.97 285.69C931.41 286.84 932.86 288.65 934.3 288.81C936.62 289.06 938.93 288.23 941.25 287.42C943.1 286.77 944.95 285.69 946.8 284.82" fill="none" stroke="#2ab337" stroke-width="1.6" stroke-linecap="round" stroke-linejoin="round"/>
<path d="M792 340.65C793.45 338.57 794.89 336.15 796.34 334.41C798.07 332.31 799.81 330.81 801.54 329.55C803.57 328.08 805.59 327.15 807.62 326.6C809.64 326.05 811.67 326.26 813.69 326.25C817.74 326.23 821.79 327.46 825.84 326.95C827.58 326.72 829.31 324.38 831.05 323.65C832.49 323.05 833.94 322.67 835.39 322.61C839.15 322.45 842.91 323.75 846.67 323.82C854.19 323.98 861.71 323.93 869.23 323.65C872.7 323.52 876.17 322.69 879.64 323.13C881.37 323.35 883.11 325.43 884.85 326.6C886.29 327.57 887.74 329.48 889.18 329.55C894.1 329.78 899.02 329.78 903.93 329.55C905.38 329.48 906.83 327.88 908.27 326.95C910.01 325.83 911.74 324.24 913.48 323.3C915.79 322.06 918.11 321.38 920.42 321.05C922.45 320.76 924.47 320.69 926.5 321.05C927.94 321.3 929.39 323.52 930.83 324.52C931.99 325.31 933.15 326.53 934.3 326.6C938.47 326.85 942.63 326.6 946.8 326.6" fill="none" stroke="#1d62a7" stroke-width="1.6" stroke-linecap="round" stroke-linejoin="round"/>
<path d="M792 341.86C793.45 339.67 794.89 337.13 796.34 335.27C798.07 333.05 799.81 331.41 801.54 330.07C803.57 328.5 805.59 327.52 807.62 326.95C809.64 326.37 811.67 326.61 813.69 326.6C817.74 326.57 821.79 327.56 825.84 327.12C827.58 326.93 829.31 324.99 831.05 324.34C832.49 323.8 833.94 323.37 835.39 323.3C839.15 323.13 842.91 323.96 846.67 324C854.19 324.08 861.71 323.77 869.23 323.65C872.7 323.59 876.17 323.07 879.64 323.48C881.37 323.68 883.11 325.48 884.85 326.6C886.29 327.53 887.74 329.48 889.18 329.55C894.1 329.78 899.02 329.78 903.93 329.55C905.38 329.48 906.83 327.62 908.27 326.6C910.01 325.38 911.74 323.71 913.48 322.78C915.79 321.54 918.11 320.95 920.42 320.88C922.45 320.81 924.47 320.54 926.5 321.05C927.94 321.41 929.39 323.52 930.83 324.52C931.99 325.31 933.15 326.45 934.3 326.6C938.47 327.15 942.63 326.83 946.8 326.95" fill="none" stroke="#2ab337" stroke-width="1.6" stroke-linecap="round" stroke-linejoin="round"/>
<path d="M792 381.22C793.45 379.19 794.89 376.91 796.34 375.15C798.07 373.03 799.81 371.17 801.54 369.94C803.57 368.51 805.59 368.09 807.62 367.69C809.64 367.28 811.67 367.58 813.69 367.51C817.74 367.38 821.79 367.48 825.84 366.99C829.02 366.61 832.2 365.87 835.39 365.26C838.28 364.71 841.17 363.67 844.06 363.52C848.69 363.29 853.32 363.45 857.95 363.52C861.71 363.59 865.47 363.72 869.23 363.87C872.7 364.01 876.17 363.67 879.64 364.39C881.37 364.75 883.11 366.68 884.85 368.21C886.29 369.48 887.74 372.33 889.18 372.54C891.5 372.88 893.81 372.78 896.13 372.54C899.02 372.24 901.91 371.9 904.8 370.46C907.12 369.32 909.43 367.14 911.74 365.61C914.06 364.07 916.37 362.57 918.69 361.27C920.13 360.46 921.58 359.08 923.02 359.01C924.18 358.96 925.34 358.97 926.5 359.53C927.94 360.25 929.39 362.43 930.83 363.52C932.57 364.84 934.3 365.7 936.04 366.47C939.63 368.07 943.21 367.86 946.8 368.55" fill="none" stroke="#1d62a7" stroke-width="1.6" stroke-linecap="round" stroke-linejoin="round"/>
<path d="M792 381.22C793.45 379.19 794.89 376.91 796.34 375.15C798.07 373.03 799.81 371.15 801.54 369.94C803.57 368.53 805.59 368.24 807.62 367.86C809.64 367.48 811.67 367.75 813.69 367.69C817.74 367.57 821.79 367.31 825.84 367.34C829.6 367.37 833.36 368.47 837.12 368.21C839.43 368.05 841.75 366.02 844.06 365.26C846.67 364.4 849.27 363.82 851.87 363.52C853.9 363.29 855.92 363.35 857.95 363.35C861.71 363.36 865.47 364.2 869.23 364.22C872.7 364.24 876.17 363.35 879.64 363.87C881.09 364.09 882.53 365.32 883.98 366.99C885.42 368.67 886.87 373.07 888.32 373.93C889.76 374.79 891.21 374.64 892.65 374.63C894.97 374.6 897.28 372.98 899.6 372.2C901.91 371.42 904.22 370.75 906.54 369.94C908.85 369.13 911.17 369.03 913.48 367.34C915.22 366.07 916.95 363.57 918.69 362.14C920.13 360.94 921.58 359.29 923.02 359.19C924.18 359.1 925.34 359.03 926.5 359.53C927.94 360.17 929.39 362.54 930.83 363.87C932.57 365.47 934.3 367.05 936.04 368.21C939.63 370.6 943.21 370.52 946.8 371.68" fill="none" stroke="#2ab337" stroke-width="1.6" stroke-linecap="round" stroke-linejoin="round"/>
<circle cx="445.4" cy="396.8" r="2.3" fill="#1d62a7"/>
<text x="452.8" y="399.3" font-size="7.3" fill="#636363" text-anchor="start" font-weight="normal" textLength="18.2" lengthAdjust="spacingAndGlyphs">Actual</text>
<circle cx="479" cy="396.8" r="2.3" fill="#2ab337"/>
<text x="486.4" y="399.3" font-size="7.3" fill="#636363" text-anchor="start" font-weight="normal" textLength="45.7" lengthAdjust="spacingAndGlyphs">Recommended</text>
<circle cx="634.6" cy="396.8" r="2.3" fill="#1d62a7"/>
<text x="642" y="399.3" font-size="7.3" fill="#636363" text-anchor="start" font-weight="normal" textLength="18.2" lengthAdjust="spacingAndGlyphs">Actual</text>
<circle cx="668.2" cy="396.8" r="2.3" fill="#2ab337"/>
<text x="675.6" y="399.3" font-size="7.3" fill="#636363" text-anchor="start" font-weight="normal" textLength="45.7" lengthAdjust="spacingAndGlyphs">Recommended</text>
<circle cx="823.8" cy="396.8" r="2.3" fill="#1d62a7"/>
<text x="831.2" y="399.3" font-size="7.3" fill="#636363" text-anchor="start" font-weight="normal" textLength="18.2" lengthAdjust="spacingAndGlyphs">Actual</text>
<circle cx="857.4" cy="396.8" r="2.3" fill="#2ab337"/>
<text x="864.8" y="399.3" font-size="7.3" fill="#636363" text-anchor="start" font-weight="normal" textLength="45.7" lengthAdjust="spacingAndGlyphs">Recommended</text>
<line x1="413.3" y1="433.8" x2="567.5" y2="433.8" stroke="#ababab" stroke-width="1.1" stroke-dasharray="1.9 1.7"/>
<line x1="413.3" y1="446.5" x2="567.5" y2="446.5" stroke="#ababab" stroke-width="1.1" stroke-dasharray="1.9 1.7"/>
<line x1="413.3" y1="455.1" x2="567.5" y2="455.1" stroke="#ababab" stroke-width="1.1" stroke-dasharray="1.9 1.7"/>
<line x1="413.3" y1="467.8" x2="567.5" y2="467.8" stroke="#ababab" stroke-width="1.1" stroke-dasharray="1.9 1.7"/>
<line x1="413.3" y1="476.5" x2="567.5" y2="476.5" stroke="#ababab" stroke-width="1.1" stroke-dasharray="1.9 1.7"/>
<line x1="413.3" y1="489.2" x2="567.5" y2="489.2" stroke="#ababab" stroke-width="1.1" stroke-dasharray="1.9 1.7"/>
<line x1="599.5" y1="433.8" x2="760.6" y2="433.8" stroke="#ababab" stroke-width="1.1" stroke-dasharray="1.9 1.7"/>
<line x1="599.5" y1="446.5" x2="760.6" y2="446.5" stroke="#ababab" stroke-width="1.1" stroke-dasharray="1.9 1.7"/>
<line x1="599.5" y1="455.1" x2="760.6" y2="455.1" stroke="#ababab" stroke-width="1.1" stroke-dasharray="1.9 1.7"/>
<line x1="599.5" y1="467.8" x2="760.6" y2="467.8" stroke="#ababab" stroke-width="1.1" stroke-dasharray="1.9 1.7"/>
<line x1="599.5" y1="476.5" x2="760.6" y2="476.5" stroke="#ababab" stroke-width="1.1" stroke-dasharray="1.9 1.7"/>
<line x1="599.5" y1="489.2" x2="760.6" y2="489.2" stroke="#ababab" stroke-width="1.1" stroke-dasharray="1.9 1.7"/>
<line x1="792" y1="433.8" x2="946.8" y2="433.8" stroke="#ababab" stroke-width="1.1" stroke-dasharray="1.9 1.7"/>
<line x1="792" y1="446.5" x2="946.8" y2="446.5" stroke="#ababab" stroke-width="1.1" stroke-dasharray="1.9 1.7"/>
<line x1="792" y1="455.1" x2="946.8" y2="455.1" stroke="#ababab" stroke-width="1.1" stroke-dasharray="1.9 1.7"/>
<line x1="792" y1="467.8" x2="946.8" y2="467.8" stroke="#ababab" stroke-width="1.1" stroke-dasharray="1.9 1.7"/>
<line x1="792" y1="476.5" x2="946.8" y2="476.5" stroke="#ababab" stroke-width="1.1" stroke-dasharray="1.9 1.7"/>
<line x1="792" y1="489.2" x2="946.8" y2="489.2" stroke="#ababab" stroke-width="1.1" stroke-dasharray="1.9 1.7"/>
<path d="M413.3 436.05C417.46 436.34 421.62 436.68 425.77 436.92C432.7 437.33 439.64 436.84 446.57 437.79C448.88 438.1 451.19 438.73 453.5 439C454.94 439.17 456.38 439.44 457.83 439.35C459.27 439.26 460.72 438.1 462.16 437.27C463.31 436.6 464.47 435.46 465.62 435.01C467.07 434.45 468.51 434.67 469.96 434.67C473.13 434.66 476.31 436.02 479.48 436.05C483.24 436.1 486.99 435.25 490.75 435.01C494.5 434.78 498.25 434.66 502.01 434.67C505.47 434.67 508.94 435.02 512.4 435.01C516.45 435.01 520.49 434.37 524.53 434.49C527.42 434.58 530.31 436.1 533.19 436.23C540.7 436.56 548.21 436.42 555.72 436.4C559.65 436.39 563.57 436.29 567.5 436.23" fill="none" stroke="#6db8f5" stroke-width="1.35" stroke-linecap="round" stroke-linejoin="round"/>
<path d="M413.3 457.18C417.46 457.35 421.62 457.5 425.77 457.7C432.7 458.03 439.64 457.77 446.57 458.92C448.88 459.3 451.19 460.01 453.5 460.3C454.94 460.49 456.38 460.74 457.83 460.65C459.27 460.56 460.72 459.4 462.16 458.57C463.31 457.9 464.47 456.76 465.62 456.31C467.07 455.75 468.51 455.97 469.96 455.97C473.13 455.96 476.31 457.32 479.48 457.35C483.24 457.4 486.99 456.55 490.75 456.31C494.5 456.08 498.25 455.95 502.01 455.97C505.47 455.98 508.94 456.49 512.4 456.49C516.45 456.49 520.49 455.68 524.53 455.79C527.42 455.87 530.31 457.46 533.19 457.53C540.7 457.71 548.21 457.6 555.72 457.53C559.65 457.49 563.57 457.41 567.5 457.35" fill="none" stroke="#1b7a43" stroke-width="1.35" stroke-linecap="round" stroke-linejoin="round"/>
<path d="M413.3 485.17C418.04 485.23 422.77 485.43 427.51 485.35C430.39 485.3 433.28 485.53 436.17 484.48C437.9 483.85 439.64 482.08 441.37 481.36C443.1 480.63 444.83 480.12 446.57 480.14C448.01 480.16 449.45 480.74 450.9 481.36C452.63 482.09 454.36 483.75 456.09 484.48C458.69 485.58 461.29 485.58 463.89 485.69C469.09 485.92 474.29 485.92 479.48 485.69C481.22 485.62 482.95 483.87 484.68 483.09C486.42 482.31 488.15 481.03 489.88 481.01C491.32 481 492.77 481.61 494.21 482.22C495.94 482.96 497.68 485.13 499.41 485.35C503.74 485.9 508.07 485.13 512.4 485.17C515.87 485.21 519.33 485.82 522.8 485.87C533.77 486.02 544.75 485.95 555.72 485.35C557.45 485.25 559.18 484.75 560.92 483.61C562.36 482.67 563.8 481.03 565.25 479.62C566 478.89 566.75 478.12 567.5 477.37" fill="none" stroke="#f0923b" stroke-width="1.35" stroke-linecap="round" stroke-linejoin="round"/>
<path d="M599.5 441.61C601.06 442.36 602.62 443.34 604.18 443.86C606.2 444.54 608.22 444.68 610.24 444.73C614.28 444.81 618.32 444.12 622.37 443.86C626.41 443.6 630.45 443.19 634.49 443.17C638.24 443.14 642 443.77 645.75 443.34C647.48 443.14 649.22 441.32 650.95 440.39C652.68 439.47 654.41 437.88 656.14 437.79C658.17 437.68 660.19 438.6 662.21 439C664.52 439.47 666.83 440.46 669.14 440.39C671.16 440.33 673.18 438.67 675.2 438.14C676.93 437.68 678.66 437.2 680.4 437.27C681.84 437.33 683.28 438.29 684.73 439C686.46 439.86 688.19 441.93 689.92 442.13C693.39 442.53 696.85 441.8 700.32 441.61C704.94 441.35 709.56 441.53 714.18 440.74C717.06 440.24 719.95 438.9 722.84 438.66C727.46 438.27 732.08 438.55 736.69 438.48C740.74 438.43 744.78 438.4 748.82 438.31C752.75 438.22 756.67 438.08 760.6 437.96" fill="none" stroke="#4e7391" stroke-width="1.35" stroke-linecap="round" stroke-linejoin="round"/>
<path d="M599.5 457.7C601.06 457.12 602.62 456.33 604.18 455.97C606.2 455.49 608.22 455.57 610.24 455.62C611.97 455.66 613.7 456.2 615.44 456.66C617.46 457.2 619.48 458.6 621.5 458.74C625.83 459.04 630.16 458.63 634.49 458.57C638.24 458.51 642 458.65 645.75 458.4C649.22 458.16 652.68 457.44 656.14 457.18C659.9 456.9 663.65 456.73 667.4 456.83C669.71 456.9 672.02 457.57 674.33 458.05C676.07 458.41 677.8 459.26 679.53 459.26C681.26 459.26 682.99 458.63 684.73 458.05C686.46 457.47 688.19 455.88 689.92 455.79C691.66 455.71 693.39 456.07 695.12 456.31C697.43 456.64 699.74 457.39 702.05 457.7C706.09 458.26 710.13 457.82 714.18 458.05C718.22 458.28 722.26 459.05 726.3 459.09C729.77 459.12 733.23 459.02 736.69 458.92C740.74 458.8 744.78 458.51 748.82 458.4C752.75 458.28 756.67 458.28 760.6 458.22" fill="none" stroke="#6d4c41" stroke-width="1.35" stroke-linecap="round" stroke-linejoin="round"/>
<path d="M599.5 484.48C603.08 484.48 606.66 484.21 610.24 484.48C612.55 484.65 614.86 485.34 617.17 485.69C618.9 485.96 620.63 486.35 622.37 486.39C626.41 486.47 630.45 485.67 634.49 485.35C638.24 485.04 642 485.49 645.75 484.48C647.48 484.01 649.22 482.31 650.95 481.36C652.68 480.4 654.41 478.82 656.14 478.75C657.88 478.69 659.61 479.66 661.34 480.14C663.36 480.7 665.38 481.82 667.4 481.88C670.29 481.97 673.18 480.8 676.07 480.49C680.69 479.99 685.3 480.68 689.92 480.14C693.39 479.74 696.85 478.37 700.32 477.89C704.94 477.24 709.56 477.52 714.18 477.37C718.22 477.23 722.26 476.98 726.3 477.02C729.77 477.05 733.23 477.71 736.69 477.89C740.74 478.1 744.78 478.1 748.82 478.06C752.75 478.03 756.67 477.48 760.6 477.19" fill="none" stroke="#8bc34a" stroke-width="1.6" stroke-linecap="round" stroke-linejoin="round"/>
<path d="M792 441.61C795.47 441.32 798.94 440.76 802.41 440.74C806.46 440.72 810.51 441.41 814.56 441.43C821.5 441.47 828.44 440.32 835.39 440.39C839.15 440.43 842.91 440.85 846.67 441.26C850.43 441.66 854.19 442.97 857.95 442.82C860.26 442.73 862.57 441.14 864.89 440.74C867.2 440.33 869.52 440.36 871.83 440.39C874.43 440.43 877.04 441.63 879.64 441.61C882.82 441.57 886 439.55 889.18 439C893.23 438.31 897.28 438.35 901.33 438.48C903.65 438.56 905.96 439.24 908.27 439.87C909.72 440.27 911.17 441.2 912.61 441.26C915.79 441.4 918.98 439.5 922.16 439C926.21 438.37 930.26 438.31 934.3 438.31C938.47 438.31 942.63 438.77 946.8 439" fill="none" stroke="#84c4f4" stroke-width="1.35" stroke-linecap="round" stroke-linejoin="round"/>
<path d="M792 460.65C795.47 460.94 798.94 461.5 802.41 461.52C806.46 461.54 810.51 461.03 814.56 460.82C818.61 460.62 822.66 460.3 826.71 460.3C829.6 460.31 832.49 460.71 835.39 460.65C839.15 460.58 842.91 458.92 846.67 458.4C850.43 457.88 854.19 457.52 857.95 457.53C861.71 457.54 865.47 458.55 869.23 458.57C872.7 458.59 876.17 458.04 879.64 458.05C883.4 458.06 887.16 457.9 890.92 458.92C892.65 459.38 894.39 460.71 896.13 461.52C897.86 462.33 899.6 463.77 901.33 463.77C903.07 463.77 904.8 462.33 906.54 461.52C908.56 460.57 910.59 458.38 912.61 458.4C914.35 458.41 916.08 460.16 917.82 461C919.84 461.97 921.87 463.73 923.89 463.77C925.63 463.81 927.36 462.86 929.1 462.39C931.12 461.83 933.15 460.68 935.17 460.65C937.2 460.62 939.22 461.14 941.25 461.86C943.1 462.52 944.95 463.72 946.8 464.64" fill="none" stroke="#f6b55c" stroke-width="1.35" stroke-linecap="round" stroke-linejoin="round"/>
<path d="M792 481.7C795.47 481.76 798.94 481.72 802.41 481.88C806.17 482.05 809.93 482.75 813.69 482.74C817.74 482.74 821.79 481.76 825.84 481.7C832.78 481.6 839.72 482.12 846.67 482.05C850.43 482.01 854.19 481.21 857.95 481.36C860.26 481.45 862.57 482.58 864.89 483.09C866.33 483.41 867.78 483.96 869.23 483.96C871.25 483.96 873.28 482.75 875.3 482.22C876.75 481.85 878.19 481.2 879.64 481.18C881.37 481.16 883.11 481.69 884.85 482.22C886.29 482.67 887.74 483.88 889.18 483.96C893.81 484.2 898.44 484.2 903.07 483.96C906.25 483.8 909.43 482.72 912.61 482.74C915.79 482.77 918.98 484.1 922.16 484.48C926.21 484.97 930.26 485.01 934.3 485C938.47 484.99 942.63 484.54 946.8 484.31" fill="none" stroke="#8d6e63" stroke-width="1.35" stroke-linecap="round" stroke-linejoin="round"/>
<circle cx="465" cy="496.2" r="2.3" fill="#6db8f5"/>
<text x="472.4" y="498.8" font-size="7.3" fill="#636363" text-anchor="start" font-weight="normal" textLength="20.8" lengthAdjust="spacingAndGlyphs">Heater</text>
<circle cx="513.13" cy="496.2" r="2.3" fill="#1b7a43"/>
<text x="520.53" y="498.8" font-size="7.3" fill="#636363" text-anchor="start" font-weight="normal" textLength="20.8" lengthAdjust="spacingAndGlyphs">Heater</text>
<circle cx="561.26" cy="496.2" r="2.3" fill="#f0923b"/>
<text x="568.66" y="498.8" font-size="7.3" fill="#636363" text-anchor="start" font-weight="normal" textLength="20.8" lengthAdjust="spacingAndGlyphs">Heater</text>
<circle cx="609.39" cy="496.2" r="2.3" fill="#4e7391"/>
<text x="616.79" y="498.8" font-size="7.3" fill="#636363" text-anchor="start" font-weight="normal" textLength="20.8" lengthAdjust="spacingAndGlyphs">Heater</text>
<circle cx="657.52" cy="496.2" r="2.3" fill="#6d4c41"/>
<text x="664.92" y="498.8" font-size="7.3" fill="#636363" text-anchor="start" font-weight="normal" textLength="20.8" lengthAdjust="spacingAndGlyphs">Heater</text>
<circle cx="705.65" cy="496.2" r="2.3" fill="#8bc34a"/>
<text x="713.05" y="498.8" font-size="7.3" fill="#636363" text-anchor="start" font-weight="normal" textLength="20.8" lengthAdjust="spacingAndGlyphs">Heater</text>
<circle cx="753.78" cy="496.2" r="2.3" fill="#84c4f4"/>
<text x="761.18" y="498.8" font-size="7.3" fill="#636363" text-anchor="start" font-weight="normal" textLength="20.8" lengthAdjust="spacingAndGlyphs">Heater</text>
<circle cx="801.91" cy="496.2" r="2.3" fill="#f6b55c"/>
<text x="809.31" y="498.8" font-size="7.3" fill="#636363" text-anchor="start" font-weight="normal" textLength="20.8" lengthAdjust="spacingAndGlyphs">Heater</text>
<circle cx="850.04" cy="496.2" r="2.3" fill="#8d6e63"/>
<text x="857.44" y="498.8" font-size="7.3" fill="#636363" text-anchor="start" font-weight="normal" textLength="20.8" lengthAdjust="spacingAndGlyphs">Heater</text>
<text x="105.6" y="52.3" font-size="8.3" fill="#fff" text-anchor="middle" font-weight="bold" textLength="23.7" lengthAdjust="spacingAndGlyphs">Margin</text>
<text x="105.6" y="149.3" font-size="8.3" fill="#fff" text-anchor="middle" font-weight="bold" textLength="61.8" lengthAdjust="spacingAndGlyphs">Feed Composition</text>
<text x="295.1" y="52.3" font-size="8.3" fill="#fff" text-anchor="middle" font-weight="bold" textLength="27.6" lengthAdjust="spacingAndGlyphs">Product</text>
<text x="295.1" y="239.6" font-size="8.3" fill="#fff" text-anchor="middle" font-weight="bold" textLength="20.6" lengthAdjust="spacingAndGlyphs">Utility</text>
<text x="676.8" y="52.3" font-size="8.3" fill="#fff" text-anchor="middle" font-weight="bold" textLength="31" lengthAdjust="spacingAndGlyphs">Set Point</text>
<text x="677" y="422.6" font-size="8.3" fill="#fff" text-anchor="middle" font-weight="bold" textLength="66.9" lengthAdjust="spacingAndGlyphs">Furnance Efficiency</text>
</svg>
</body>
</html>
